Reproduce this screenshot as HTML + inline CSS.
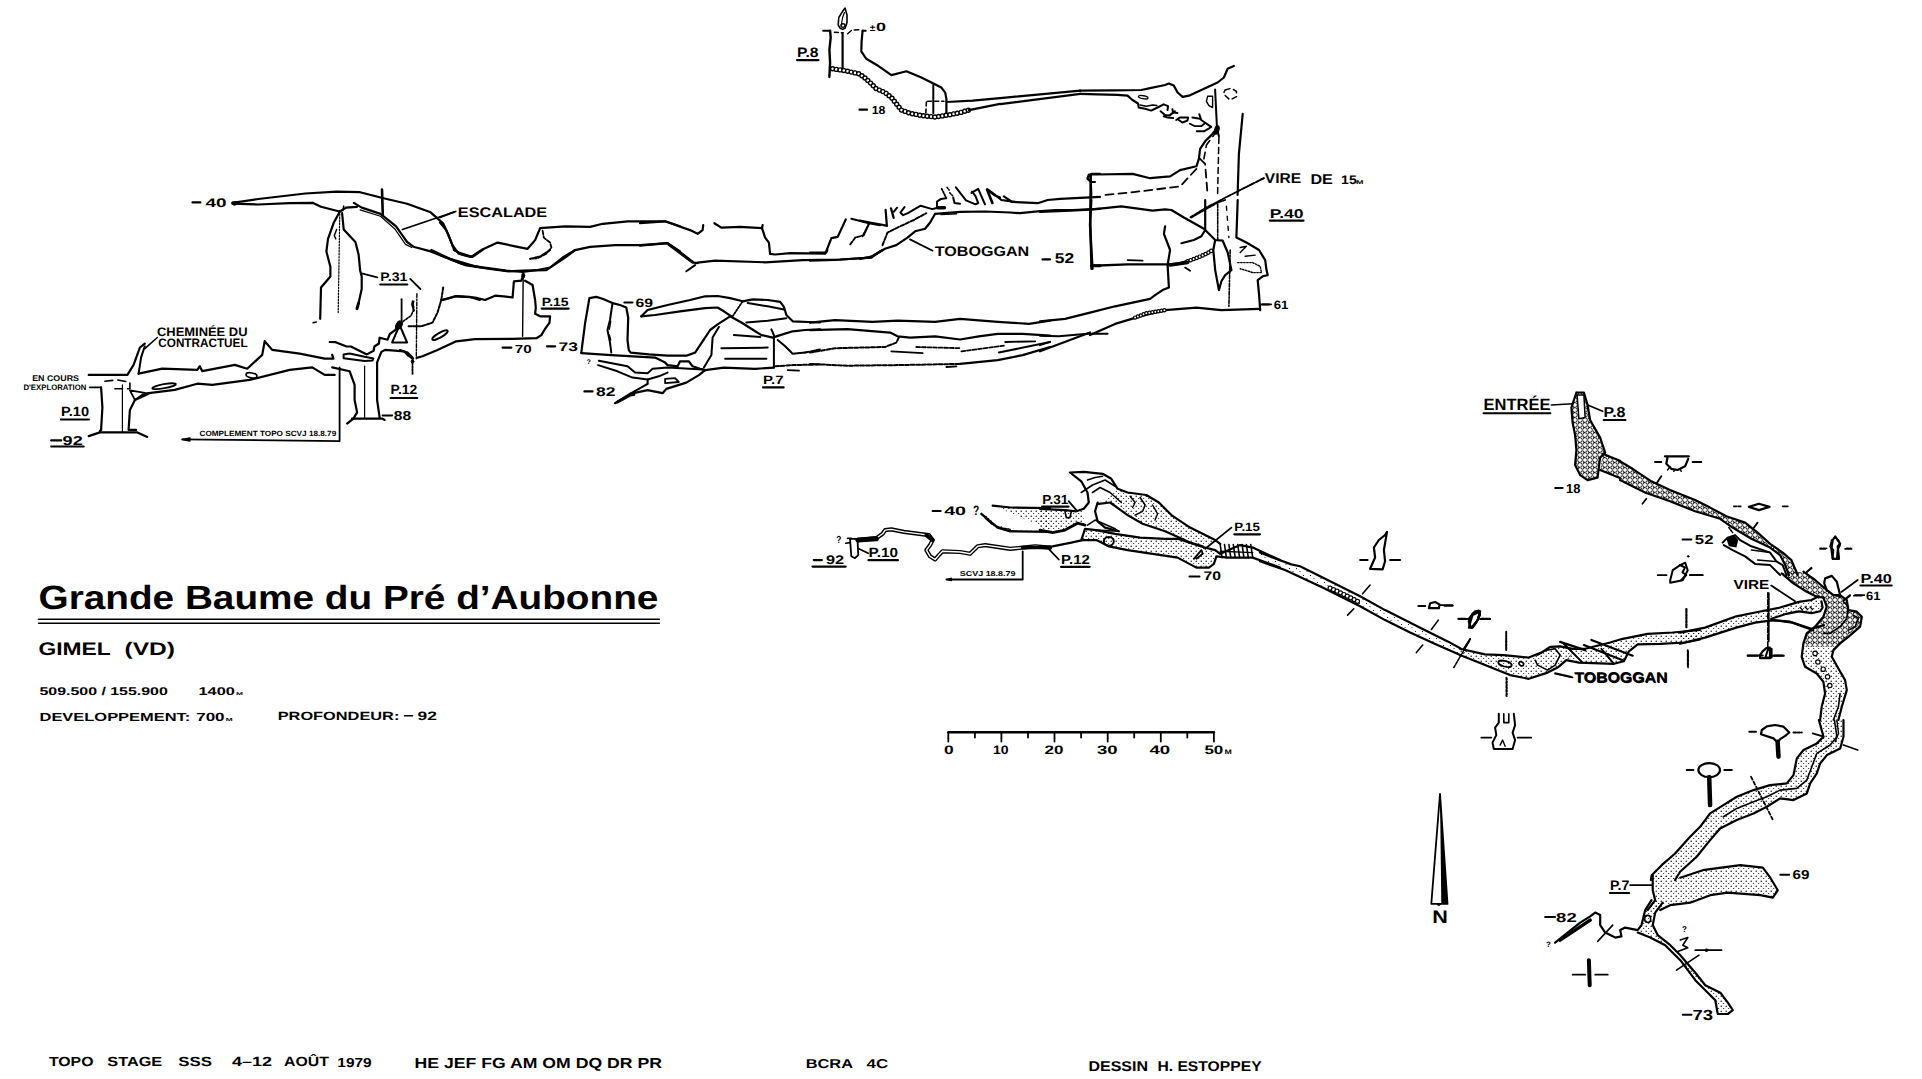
<!DOCTYPE html>
<html><head><meta charset="utf-8"><style>
html,body{margin:0;padding:0;background:#fff;}
svg{display:block;} text{text-rendering:geometricPrecision;}
</style></head><body>
<svg width="1922" height="1079" viewBox="0 0 1922 1079" stroke-linecap="round" stroke-linejoin="round">
<defs>
<pattern id="st" width="5" height="5" patternUnits="userSpaceOnUse"><circle cx="1.2" cy="1.2" r="0.7" fill="#000"/><circle cx="3.7" cy="3.5" r="0.55" fill="#000"/></pattern>
<pattern id="st2" width="7" height="7" patternUnits="userSpaceOnUse"><circle cx="1.5" cy="1.5" r="0.6" fill="#000"/><circle cx="5" cy="4.5" r="0.5" fill="#000"/></pattern>
<pattern id="bo" width="5" height="5" patternUnits="userSpaceOnUse"><circle cx="2.5" cy="2.5" r="1.7" fill="none" stroke="#000" stroke-width="1"/></pattern>
</defs>
<rect width="1922" height="1079" fill="#fff"/>
<polyline points="813.8,560.1 821.9,560.1" fill="none" stroke="#000" stroke-width="2.20"/>
<text x="826.0" y="564.0" font-family="Liberation Sans" font-weight="bold" font-size="12.46" textLength="18.1" lengthAdjust="spacingAndGlyphs">92</text>
<polyline points="812.5,566.6 845.7,566.6" fill="none" stroke="#000" stroke-width="2.20"/>
<text x="868.5" y="557.2" font-family="Liberation Sans" font-weight="bold" font-size="13.32" textLength="29.4" lengthAdjust="spacingAndGlyphs">P.10</text>
<line x1="868.5" y1="560.2" x2="897.9" y2="560.2" stroke="#000" stroke-width="2.20"/>
<text x="836.2" y="543.0" font-family="Liberation Sans" font-weight="bold" font-size="10.23" textLength="5.1" lengthAdjust="spacingAndGlyphs">?</text>
<polyline points="850.0,538.8 857.5,538.8 858.2,555.1 855.0,558.2 851.3,556.3 850.0,538.8" fill="none" stroke="#000" stroke-width="1.80"/>
<polyline points="847.5,538.2 851.3,538.2" fill="none" stroke="#000" stroke-width="1.60"/>
<polyline points="845.7,543.2 850.0,542.6" fill="none" stroke="#000" stroke-width="1.60"/>
<polyline points="858.8,548.8 868.2,553.2" fill="none" stroke="#000" stroke-width="1.80"/>
<polyline points="857.5,540.1 876.3,538.2 882.6,533.8 885.1,530.1 891.3,529.4 903.8,531.9 928.9,535.1 932.6,540.1 930.1,545.1 926.4,550.1 930.1,556.3 935.1,559.5 938.9,555.1 942.6,551.3 960.1,552.0 970.1,553.8 977.7,546.3 985.2,545.1 1010.2,548.8 1022.7,547.6 1035.2,546.3 1050.0,547.6" fill="none" stroke="#000" stroke-width="4.20"/>
<polyline points="857.5,540.1 876.3,538.2 882.6,533.8 885.1,530.1 891.3,529.4 903.8,531.9 928.9,535.1 932.6,540.1 930.1,545.1 926.4,550.1 930.1,556.3 935.1,559.5 938.9,555.1 942.6,551.3 960.1,552.0 970.1,553.8 977.7,546.3 985.2,545.1 1010.2,548.8 1022.7,547.6 1035.2,546.3 1050.0,547.6" fill="none" stroke="#fff" stroke-width="1.40"/>
<polyline points="858.2,540.1 876.3,538.8" fill="none" stroke="#000" stroke-width="5.00"/>
<polyline points="926.4,535.1 932.6,540.1" fill="none" stroke="#000" stroke-width="4.00"/>
<polyline points="1022.7,547.6 1050.0,547.6" fill="none" stroke="#000" stroke-width="3.50"/>
<polyline points="932.6,511.0 940.7,511.0" fill="none" stroke="#000" stroke-width="2.00"/>
<text x="944.2" y="515.3" font-family="Liberation Sans" font-weight="bold" font-size="12.29" textLength="21.9" lengthAdjust="spacingAndGlyphs">40</text>
<text x="973.0" y="515.3" font-family="Liberation Sans" font-weight="bold" font-size="13.66" textLength="6.2" lengthAdjust="spacingAndGlyphs">?</text>
<polygon points="992.7,505.7 1010.2,507.5 1050.0,508.2 1050.0,531.9 1010.2,531.3 997.7,527.6 990.2,521.3 981.4,513.8 987.7,516.3 997.7,525.1 1010.2,528.8 1050.0,529.4" fill="url(#st)"/>
<polyline points="992.7,505.7 1010.2,507.5 1050.0,508.2" fill="none" stroke="#000" stroke-width="2.20"/>
<polyline points="981.4,513.8 990.2,521.3 997.7,527.6 1010.2,531.3 1050.0,531.9" fill="none" stroke="#000" stroke-width="2.40"/>
<polyline points="985.2,518.2 991.4,523.8 1000.2,527.6 1010.2,529.4" fill="none" stroke="#000" stroke-width="1.40"/>
<text x="959.8" y="575.9" font-family="Liberation Sans" font-weight="bold" font-size="7.11" textLength="55.7" lengthAdjust="spacingAndGlyphs">SCVJ  18.8.79</text>
<polyline points="946.4,579.5 1022.7,579.5 1022.7,551.3" fill="none" stroke="#000" stroke-width="1.80"/>
<polyline points="946.4,579.5 951.4,578.2 951.4,580.7 946.4,579.5" fill="#000" stroke="#000" stroke-width="1.20"/>
<polygon points="1620.0,461.3 1632.5,468.8 1651.3,481.3 1670.0,490.0 1695.1,500.1 1710.1,507.6 1726.3,516.3 1745.1,522.6 1757.6,532.6 1770.1,543.8 1782.7,552.6 1791.4,560.1 1797.7,575.0 1788.9,575.0 1785.2,565.1 1780.1,555.1 1770.1,547.6 1751.4,538.8 1732.6,527.6 1720.1,518.8 1695.1,511.3 1670.0,501.3 1645.0,492.5 1620.0,480.0" fill="url(#bo)"/>
<polyline points="1620.0,461.3 1632.5,468.8 1651.3,481.3 1670.0,490.0 1695.1,500.1 1710.1,507.6 1726.3,516.3 1745.1,522.6 1757.6,532.6 1770.1,543.8 1782.7,552.6 1791.4,560.1 1797.7,575.0" fill="none" stroke="#000" stroke-width="2.20"/>
<polyline points="1620.0,480.0 1645.0,492.5 1670.0,501.3 1695.1,511.3 1720.1,518.8 1732.6,527.6 1751.4,538.8 1770.1,547.6 1780.1,555.1 1785.2,565.1 1788.9,575.0" fill="none" stroke="#000" stroke-width="2.20"/>
<polyline points="1722.6,542.6 1727.6,537.6 1735.1,535.1 1740.1,540.1 1751.4,546.3 1770.1,552.6 1776.4,561.4 1782.7,565.1 1786.4,575.0" fill="none" stroke="#000" stroke-width="2.00"/>
<polyline points="1723.8,545.1 1732.6,550.1 1745.1,556.4 1755.1,563.9 1770.1,565.1 1780.1,575.0" fill="none" stroke="#000" stroke-width="2.00"/>
<polygon points="1726.3,538.8 1733.9,535.1 1738.2,540.1 1736.4,547.6 1728.9,546.3" fill="#000"/>
<polyline points="1751.4,550.1 1770.1,552.6" fill="none" stroke="#000" stroke-width="1.50"/>
<polyline points="1757.6,560.1 1775.1,561.4" fill="none" stroke="#000" stroke-width="1.50"/>
<polyline points="1665.0,456.3 1688.8,456.3" fill="none" stroke="#000" stroke-width="2.20"/>
<polyline points="1667.5,457.5 1666.3,463.8 1671.3,468.8 1677.6,470.0 1685.1,466.3 1688.2,458.8" fill="none" stroke="#000" stroke-width="2.20"/>
<polyline points="1670.0,466.9 1667.5,470.0" fill="none" stroke="#000" stroke-width="1.40"/>
<polyline points="1675.1,469.4 1673.8,471.3" fill="none" stroke="#000" stroke-width="1.40"/>
<polyline points="1680.1,469.4 1681.3,471.3" fill="none" stroke="#000" stroke-width="1.40"/>
<polyline points="1655.0,461.9 1661.3,461.9" fill="none" stroke="#000" stroke-width="2.00"/>
<polyline points="1692.6,461.9 1701.3,461.9" fill="none" stroke="#000" stroke-width="2.00"/>
<polyline points="1748.9,506.9 1758.9,503.8 1769.5,506.9 1758.9,510.1 1748.9,506.9" fill="none" stroke="#000" stroke-width="2.20"/>
<polyline points="1733.9,506.3 1741.4,506.3" fill="none" stroke="#000" stroke-width="1.80" stroke-dasharray="2.5 1.8"/>
<polyline points="1782.7,506.3 1787.7,506.3" fill="none" stroke="#000" stroke-width="1.80"/>
<polyline points="1661.3,476.3 1656.3,483.8" fill="none" stroke="#000" stroke-width="1.80"/>
<polyline points="1646.3,498.8 1642.5,503.8" fill="none" stroke="#000" stroke-width="1.80"/>
<polyline points="1757.6,522.6 1753.9,527.6" fill="none" stroke="#000" stroke-width="1.80"/>
<polyline points="1728.9,527.6 1732.6,532.6" fill="none" stroke="#000" stroke-width="1.60" stroke-dasharray="1.5 1.5"/>
<polyline points="1811.4,567.6 1806.4,572.6" fill="none" stroke="#000" stroke-width="1.80"/>
<polyline points="1832.7,540.1 1835.2,536.3 1837.7,540.1 1840.2,543.8 1837.7,546.3 1839.0,558.9 1832.7,558.9 1831.4,548.9 1832.7,540.1" fill="none" stroke="#000" stroke-width="2.20"/>
<polyline points="1820.2,548.9 1825.2,548.9" fill="none" stroke="#000" stroke-width="1.80"/>
<polyline points="1845.2,548.9 1851.5,548.9" fill="none" stroke="#000" stroke-width="1.80" stroke-dasharray="1.5 1.5"/>
<polyline points="1682.6,539.5 1691.3,539.5" fill="none" stroke="#000" stroke-width="2.20"/>
<text x="1694.8" y="543.8" font-family="Liberation Sans" font-weight="bold" font-size="12.97" textLength="18.7" lengthAdjust="spacingAndGlyphs">52</text>
<polygon points="1818.9,720.0 1823.5,736.7 1816.8,743.4 1803.5,750.0 1796.8,758.4 1793.5,775.1 1786.8,783.4 1770.1,785.1 1753.5,790.1 1736.8,796.8 1723.4,805.1 1710.1,813.4 1700.1,826.8 1690.1,836.8 1675.1,853.5 1661.7,865.2 1651.7,875.2 1650.9,880.0 1675.1,880.0 1680.1,871.8 1696.7,856.8 1710.1,840.1 1720.1,828.5 1736.8,820.1 1753.5,813.4 1766.8,806.8 1780.1,798.4 1793.5,800.1 1806.8,793.4 1810.2,783.4 1816.8,773.4 1820.2,763.4 1826.9,755.1 1840.2,748.4 1843.5,736.7 1843.5,720.0" fill="url(#st)"/>
<polyline points="1818.9,720.0 1823.5,736.7 1816.8,743.4 1803.5,750.0 1796.8,758.4 1793.5,775.1 1786.8,783.4 1770.1,785.1 1753.5,790.1 1736.8,796.8 1723.4,805.1 1710.1,813.4 1700.1,826.8 1690.1,836.8 1675.1,853.5 1661.7,865.2 1651.7,875.2 1650.9,880.0" fill="none" stroke="#000" stroke-width="2.20"/>
<polyline points="1843.5,720.0 1843.5,736.7 1840.2,748.4 1826.9,755.1 1820.2,763.4 1816.8,773.4 1810.2,783.4 1806.8,793.4 1793.5,800.1 1780.1,798.4 1766.8,806.8 1753.5,813.4 1736.8,820.1 1720.1,828.5 1710.1,840.1 1696.7,856.8 1680.1,871.8 1675.1,880.0" fill="none" stroke="#000" stroke-width="2.20"/>
<polyline points="1834.4,720.0 1836.9,736.7 1830.2,745.0 1816.8,753.4 1811.8,766.7 1806.8,780.1 1796.8,788.4 1780.1,790.1 1766.8,796.8 1753.5,801.8 1736.8,808.4 1723.4,816.8" fill="none" stroke="#000" stroke-width="1.60"/>
<polyline points="1836.9,720.0 1838.5,733.4 1835.2,741.7" fill="none" stroke="#000" stroke-width="1.40"/>
<ellipse cx="1709.2" cy="770.1" rx="10.8" ry="7.0" transform="rotate(0.0 1709.2 770.1)" fill="none" stroke="#000" stroke-width="2.20"/>
<polyline points="1709.2,777.1 1710.1,805.1" fill="none" stroke="#000" stroke-width="4.50"/>
<polyline points="1686.7,770.1 1693.4,770.1" fill="none" stroke="#000" stroke-width="2.00"/>
<polyline points="1724.3,770.1 1731.8,770.1" fill="none" stroke="#000" stroke-width="2.00"/>
<polyline points="1761.0,734.2 1761.8,730.0 1766.8,726.4 1775.1,725.0 1783.5,726.7 1789.3,732.5 1785.2,735.9 1780.1,739.2 1777.6,742.5 1773.5,738.4 1761.0,734.2" fill="none" stroke="#000" stroke-width="2.20"/>
<polyline points="1777.6,741.7 1778.5,756.7" fill="none" stroke="#000" stroke-width="4.50"/>
<polyline points="1749.3,731.7 1756.0,731.7" fill="none" stroke="#000" stroke-width="2.00"/>
<polyline points="1793.5,732.5 1801.8,732.5" fill="none" stroke="#000" stroke-width="2.00" stroke-dasharray="2.3 1.7"/>
<polyline points="1751.0,776.7 1772.6,819.3" fill="none" stroke="#000" stroke-width="1.80" stroke-dasharray="3.3 2.3"/>
<polyline points="1812.7,733.4 1823.5,736.7" fill="none" stroke="#000" stroke-width="1.80"/>
<polyline points="1843.5,745.0 1857.7,750.0" fill="none" stroke="#000" stroke-width="1.80"/>
<text x="1042.2" y="503.7" font-family="Liberation Sans" font-weight="bold" font-size="12.97" textLength="26.2" lengthAdjust="spacingAndGlyphs">P.31</text>
<line x1="1042.2" y1="506.7" x2="1068.5" y2="506.7" stroke="#000" stroke-width="2.20"/>
<text x="1061.0" y="563.8" font-family="Liberation Sans" font-weight="bold" font-size="12.97" textLength="28.8" lengthAdjust="spacingAndGlyphs">P.12</text>
<line x1="1061.0" y1="566.8" x2="1089.7" y2="566.8" stroke="#000" stroke-width="2.20"/>
<text x="1234.3" y="531.3" font-family="Liberation Sans" font-weight="bold" font-size="12.12" textLength="25.6" lengthAdjust="spacingAndGlyphs">P.15</text>
<line x1="1234.3" y1="534.3" x2="1259.9" y2="534.3" stroke="#000" stroke-width="2.20"/>
<text x="1203.6" y="580.3" font-family="Liberation Sans" font-weight="bold" font-size="12.46" textLength="17.5" lengthAdjust="spacingAndGlyphs">70</text>
<polyline points="1189.5,576.4 1199.5,576.4" fill="none" stroke="#000" stroke-width="2.00"/>
<polyline points="1047.5,547.6 1058.8,559.5" fill="none" stroke="#000" stroke-width="1.80"/>
<polyline points="1231.4,527.6 1205.2,548.8" fill="none" stroke="#000" stroke-width="1.80"/>
<polyline points="1068.8,501.3 1076.3,510.1" fill="none" stroke="#000" stroke-width="1.80"/>
<polygon points="1040.0,508.8 1065.0,510.1 1076.3,511.3 1083.8,508.8 1082.5,513.8 1085.0,525.1 1077.5,523.2 1065.0,530.1 1052.5,532.6 1040.0,530.1" fill="url(#st)"/>
<polyline points="1040.0,508.8 1065.0,510.1 1076.3,511.3 1083.8,508.8 1088.8,502.5 1087.5,492.5 1081.3,481.3 1070.0,472.5 1083.8,471.9 1102.6,473.8 1111.3,478.8 1117.6,488.8 1127.6,492.5 1146.3,495.0 1158.9,502.5 1171.4,515.1 1190.1,527.6 1215.2,540.1 1220.2,543.8" fill="none" stroke="#000" stroke-width="2.20"/>
<polyline points="1040.0,530.1 1052.5,532.6 1065.0,530.1 1077.5,523.2 1085.0,525.1" fill="none" stroke="#000" stroke-width="2.80"/>
<polyline points="1065.0,511.3 1066.3,517.6 1070.0,517.6 1071.3,511.3" fill="none" stroke="#000" stroke-width="1.60"/>
<polygon points="1117.6,490.0 1127.6,492.5 1146.3,495.0 1158.9,502.5 1171.4,515.1 1190.1,527.6 1217.7,541.3 1202.7,545.1 1190.1,542.6 1165.1,531.3 1142.6,523.8 1127.6,515.1 1110.1,502.5 1098.8,503.8" fill="url(#st)"/>
<polyline points="1098.8,503.8 1110.1,502.5 1127.6,515.1 1142.6,523.8 1165.1,531.3 1190.1,542.6 1202.7,546.3" fill="none" stroke="#000" stroke-width="2.20"/>
<polyline points="1097.6,502.5 1095.1,511.3 1097.6,521.3 1105.1,527.6 1118.8,531.3" fill="none" stroke="#000" stroke-width="2.20"/>
<polyline points="1081.3,492.5 1092.5,485.0 1105.1,480.0 1115.1,486.3" fill="none" stroke="#000" stroke-width="1.60"/>
<polyline points="1087.5,480.0 1095.1,477.5 1102.6,476.3" fill="none" stroke="#000" stroke-width="1.40"/>
<polyline points="1092.5,492.5 1100.1,487.5 1110.1,492.5 1121.3,502.5" fill="none" stroke="#000" stroke-width="1.60"/>
<polyline points="1130.1,496.3 1135.1,502.5 1132.6,507.5" fill="none" stroke="#000" stroke-width="1.40"/>
<polyline points="1140.1,497.5 1145.1,505.0 1142.6,511.3 1135.1,515.1" fill="none" stroke="#000" stroke-width="1.50"/>
<polyline points="1152.6,505.0 1157.6,513.8 1155.1,520.1" fill="none" stroke="#000" stroke-width="1.40"/>
<polygon points="1081.3,540.1 1085.0,528.8 1096.3,530.1 1115.1,533.8 1140.1,537.6 1165.1,538.8 1177.6,538.8 1202.7,547.0 1215.2,550.1 1220.2,553.8 1216.4,556.3 1213.9,563.9 1208.9,567.6 1196.4,567.6 1177.6,557.6 1152.6,553.8 1127.6,550.1 1108.8,546.3 1096.3,540.1" fill="url(#st)"/>
<polyline points="1081.3,540.1 1085.0,528.8 1096.3,530.1 1115.1,533.8 1140.1,537.6 1165.1,538.8 1177.6,538.8 1202.7,547.0 1215.2,550.1 1220.2,553.8 1240.2,545.1 1252.7,547.6 1280.0,560.1" fill="none" stroke="#000" stroke-width="2.20"/>
<polyline points="1040.0,547.6 1052.5,546.3 1071.3,542.6 1082.5,540.1 1096.3,540.1 1108.8,546.3 1127.6,550.1 1152.6,553.8 1177.6,557.6 1196.4,567.6 1208.9,567.6 1213.9,563.9 1216.4,556.3 1227.7,557.6 1252.7,557.6 1280.0,567.6" fill="none" stroke="#000" stroke-width="2.20"/>
<ellipse cx="1108.8" cy="541.3" rx="5.0" ry="4.4" transform="rotate(0.0 1108.8 541.3)" fill="none" stroke="#000" stroke-width="2.00"/>
<polyline points="1193.9,558.8 1201.4,550.1 1202.7,553.8 1196.4,558.8" fill="none" stroke="#000" stroke-width="1.80"/>
<polyline points="1220.2,544.5 1222.0,557.6" fill="none" stroke="#000" stroke-width="1.60"/>
<polyline points="1224.5,544.5 1226.4,557.6" fill="none" stroke="#000" stroke-width="1.60"/>
<polyline points="1228.9,544.5 1230.8,557.6" fill="none" stroke="#000" stroke-width="1.60"/>
<polyline points="1233.3,544.5 1235.2,557.6" fill="none" stroke="#000" stroke-width="1.60"/>
<polyline points="1237.7,544.5 1239.6,557.6" fill="none" stroke="#000" stroke-width="1.60"/>
<polyline points="1242.1,544.5 1243.9,557.6" fill="none" stroke="#000" stroke-width="1.60"/>
<polyline points="1246.4,544.5 1248.3,557.6" fill="none" stroke="#000" stroke-width="1.60"/>
<polyline points="1250.8,544.5 1252.7,557.6" fill="none" stroke="#000" stroke-width="1.60"/>
<polyline points="1220.2,551.3 1252.7,552.6" fill="none" stroke="#000" stroke-width="1.40"/>
<polyline points="1087.5,525.1 1095.1,520.1 1115.1,528.8 1118.8,531.3 1096.3,530.1" fill="none" stroke="#000" stroke-width="1.60"/>
<polygon points="1260.0,552.5 1272.5,557.5 1291.3,564.4 1300.0,566.3 1322.6,577.6 1360.1,596.3 1385.1,610.1 1422.7,628.9 1447.7,641.4 1466.4,651.4 1460.2,655.0 1435.2,643.9 1410.1,632.6 1385.1,620.1 1360.1,606.3 1322.6,587.6 1285.0,570.0 1260.0,561.3" fill="url(#st2)"/>
<polyline points="1260.0,552.5 1272.5,557.5 1291.3,564.4 1300.0,566.3 1322.6,577.6 1360.1,596.3 1385.1,610.1 1422.7,628.9 1447.7,641.4 1460.2,648.2" fill="none" stroke="#000" stroke-width="2.20"/>
<polyline points="1260.0,561.3 1285.0,570.0 1322.6,587.6 1360.1,606.3 1385.1,620.1 1410.1,632.6 1435.2,643.9 1460.2,655.0" fill="none" stroke="#000" stroke-width="2.20"/>
<circle cx="1330.1" cy="588.2" r="2.0" fill="#fff" stroke="#000" stroke-width="1.20"/>
<circle cx="1333.5" cy="589.7" r="2.0" fill="#fff" stroke="#000" stroke-width="1.20"/>
<circle cx="1337.0" cy="591.2" r="2.0" fill="#fff" stroke="#000" stroke-width="1.20"/>
<circle cx="1340.5" cy="592.8" r="2.0" fill="#fff" stroke="#000" stroke-width="1.20"/>
<circle cx="1343.9" cy="594.5" r="2.0" fill="#fff" stroke="#000" stroke-width="1.20"/>
<circle cx="1347.3" cy="596.2" r="2.0" fill="#fff" stroke="#000" stroke-width="1.20"/>
<circle cx="1350.7" cy="597.9" r="2.0" fill="#fff" stroke="#000" stroke-width="1.20"/>
<circle cx="1354.1" cy="599.6" r="2.0" fill="#fff" stroke="#000" stroke-width="1.20"/>
<circle cx="1357.5" cy="601.3" r="2.0" fill="#fff" stroke="#000" stroke-width="1.20"/>
<polyline points="1370.1,585.1 1362.6,593.8" fill="none" stroke="#000" stroke-width="1.60"/>
<polyline points="1353.8,608.8 1347.6,615.1" fill="none" stroke="#000" stroke-width="1.60"/>
<polyline points="1438.3,620.1 1431.4,629.5" fill="none" stroke="#000" stroke-width="1.60"/>
<polyline points="1422.7,645.1 1416.4,652.6" fill="none" stroke="#000" stroke-width="1.60"/>
<polyline points="1470.2,638.9 1463.9,648.9" fill="none" stroke="#000" stroke-width="1.60"/>
<polyline points="1370.1,568.8 1375.1,557.5 1373.9,547.5 1378.9,540.0 1385.1,535.0 1387.0,531.9 1383.9,550.0 1385.1,561.3 1382.6,569.4 1370.1,568.8" fill="none" stroke="#000" stroke-width="2.20"/>
<polyline points="1360.1,560.0 1367.6,560.0" fill="none" stroke="#000" stroke-width="2.00"/>
<polyline points="1390.1,560.0 1400.1,560.0" fill="none" stroke="#000" stroke-width="2.00"/>
<polyline points="1428.9,608.2 1430.2,603.2 1435.2,602.0 1439.5,604.5 1438.9,608.2 1428.9,608.2" fill="none" stroke="#000" stroke-width="2.20"/>
<polyline points="1418.3,606.1 1425.2,606.1" fill="none" stroke="#000" stroke-width="2.00"/>
<polyline points="1444.5,605.7 1452.7,605.7" fill="none" stroke="#000" stroke-width="2.00"/>
<polyline points="1470.2,626.3 1468.9,618.8 1475.2,611.3 1480.2,611.3 1477.7,620.1 1471.4,627.6 1470.2,626.3" fill="none" stroke="#000" stroke-width="2.20"/>
<polyline points="1458.3,618.8 1465.2,618.8" fill="none" stroke="#000" stroke-width="2.00"/>
<polyline points="1481.5,618.8 1489.6,618.8" fill="none" stroke="#000" stroke-width="2.00"/>
<text x="1483.5" y="410.2" font-family="Liberation Sans" font-weight="bold" font-size="16.41" textLength="66.9" lengthAdjust="spacingAndGlyphs">ENTRÉE</text>
<line x1="1483.5" y1="413.2" x2="1550.4" y2="413.2" stroke="#000" stroke-width="2.00"/>
<polyline points="1551.4,405.0 1572.6,403.8" fill="none" stroke="#000" stroke-width="1.60"/>
<text x="1603.6" y="417.0" font-family="Liberation Sans" font-weight="bold" font-size="14.35" textLength="21.9" lengthAdjust="spacingAndGlyphs">P.8</text>
<line x1="1603.6" y1="420.0" x2="1625.5" y2="420.0" stroke="#000" stroke-width="2.00"/>
<polyline points="1587.6,405.0 1602.7,411.3" fill="none" stroke="#000" stroke-width="1.60"/>
<polygon points="1576.4,392.5 1583.9,392.5 1587.6,405.0 1590.1,420.0 1600.1,437.6 1605.2,452.6 1600.1,457.6 1597.6,477.6 1587.6,480.1 1580.1,475.1 1575.1,465.1 1576.4,450.1 1575.1,435.1 1572.6,422.5 1571.4,407.5" fill="url(#bo)"/>
<polyline points="1576.4,392.5 1583.9,392.5 1587.6,405.0 1590.1,420.0 1600.1,437.6 1605.2,452.6 1600.1,457.6 1597.6,477.6 1587.6,480.1 1580.1,475.1 1575.1,465.1 1576.4,450.1 1575.1,435.1 1572.6,422.5 1571.4,407.5 1576.4,392.5" fill="none" stroke="#000" stroke-width="2.20"/>
<polyline points="1577.1,395.0 1583.9,395.0 1585.1,417.5 1578.9,418.8 1577.1,395.0" fill="#fff" stroke="#000" stroke-width="1.50"/>
<polygon points="1602.7,453.8 1619.9,460.8 1619.9,478.1 1600.1,470.1" fill="url(#bo)"/>
<polyline points="1602.7,453.8 1619.9,460.8" fill="none" stroke="#000" stroke-width="2.20"/>
<polyline points="1600.1,470.1 1619.9,478.1" fill="none" stroke="#000" stroke-width="2.20"/>
<polyline points="1555.1,488.1 1562.6,488.1" fill="none" stroke="#000" stroke-width="2.00"/>
<text x="1566.1" y="492.8" font-family="Liberation Sans" font-weight="bold" font-size="12.97" textLength="14.4" lengthAdjust="spacingAndGlyphs">18</text>
<polyline points="1670.2,580.2 1672.7,570.2 1680.2,565.2 1685.2,562.7 1687.7,570.2 1682.7,580.2 1670.2,582.7 1670.2,580.2" fill="none" stroke="#000" stroke-width="2.00"/>
<polyline points="1657.7,575.2 1666.5,575.2" fill="none" stroke="#000" stroke-width="1.80"/>
<polyline points="1690.2,575.2 1702.7,575.2" fill="none" stroke="#000" stroke-width="1.80"/>
<ellipse cx="1688.2" cy="556.4" rx="0.8" ry="0.8" transform="rotate(0.0 1688.2 556.4)" fill="#000" stroke="#000" stroke-width="1.00"/>
<polyline points="1686.5,609.0 1686.5,627.7" fill="none" stroke="#000" stroke-width="1.60" stroke-dasharray="3.5 1.5"/>
<polyline points="1767.8,592.7 1767.8,650.0" fill="none" stroke="#000" stroke-width="1.60" stroke-dasharray="5.0 2.0"/>
<polyline points="1506.3,631.5 1506.3,650.0" fill="none" stroke="#000" stroke-width="1.60"/>
<polyline points="1458.8,619.0 1467.5,619.0" fill="none" stroke="#000" stroke-width="1.80"/>
<polyline points="1480.0,619.0 1490.0,619.0" fill="none" stroke="#000" stroke-width="1.80"/>
<polyline points="1468.8,627.7 1472.5,615.2 1480.0,611.5 1477.5,620.2 1472.5,627.7 1468.8,627.7" fill="none" stroke="#000" stroke-width="2.00"/>
<polyline points="1470.0,639.0 1463.8,650.0" fill="none" stroke="#000" stroke-width="1.60"/>
<polyline points="1440.0,605.2 1452.5,605.2" fill="none" stroke="#000" stroke-width="1.80"/>
<text x="1733.5" y="588.7" font-family="Liberation Sans" font-weight="bold" font-size="12.97" textLength="35.6" lengthAdjust="spacingAndGlyphs">VIRE</text>
<polyline points="1771.3,585.6 1795.1,601.3" fill="none" stroke="#000" stroke-width="1.80"/>
<text x="1860.5" y="582.5" font-family="Liberation Sans" font-weight="bold" font-size="12.97" textLength="31.3" lengthAdjust="spacingAndGlyphs">P.40</text>
<line x1="1860.5" y1="585.5" x2="1891.7" y2="585.5" stroke="#000" stroke-width="2.20"/>
<polyline points="1857.7,580.0 1841.4,591.9" fill="none" stroke="#000" stroke-width="1.80"/>
<polyline points="1853.9,595.7 1861.4,595.7" fill="none" stroke="#000" stroke-width="1.80"/>
<text x="1866.1" y="600.0" font-family="Liberation Sans" font-weight="bold" font-size="12.12" textLength="14.4" lengthAdjust="spacingAndGlyphs">61</text>
<polyline points="1850.2,595.0 1843.9,600.0" fill="none" stroke="#000" stroke-width="1.60"/>
<polygon points="1680.0,632.6 1705.0,627.6 1736.3,616.3 1755.1,612.5 1780.1,607.5 1798.9,601.9 1811.4,600.0 1816.4,597.5 1818.9,596.3 1822.6,607.5 1820.1,611.3 1811.4,613.2 1798.9,611.3 1786.3,613.8 1771.3,618.8 1755.1,622.6 1736.3,627.6 1705.0,637.6 1680.0,643.8" fill="url(#st)"/>
<polyline points="1680.0,632.6 1705.0,627.6 1736.3,616.3 1755.1,612.5 1780.1,607.5 1798.9,601.9 1811.4,600.0 1816.4,597.5 1818.9,596.3" fill="none" stroke="#000" stroke-width="2.20"/>
<polyline points="1680.0,643.8 1705.0,637.6 1736.3,627.6 1755.1,622.6 1773.8,620.1 1792.6,622.6 1811.4,628.8 1823.9,625.1" fill="none" stroke="#000" stroke-width="2.20"/>
<polyline points="1771.3,618.8 1786.3,613.8 1798.9,611.3 1811.4,613.2 1820.1,611.3 1822.6,607.5 1821.4,601.3" fill="none" stroke="#000" stroke-width="2.20"/>
<polyline points="1800.1,607.5 1802.6,610.0" fill="none" stroke="#000" stroke-width="1.40"/>
<polyline points="1805.1,606.9 1807.6,609.4" fill="none" stroke="#000" stroke-width="1.40"/>
<polyline points="1810.1,606.9 1812.6,609.4" fill="none" stroke="#000" stroke-width="1.40"/>
<polyline points="1768.8,593.2 1768.8,641.3" fill="none" stroke="#000" stroke-width="1.80" stroke-dasharray="2.5 1.5"/>
<polyline points="1686.3,608.8 1686.3,628.2" fill="none" stroke="#000" stroke-width="1.60" stroke-dasharray="2.5 1.5"/>
<polyline points="1688.1,651.3 1688.1,667.6" fill="none" stroke="#000" stroke-width="1.60" stroke-dasharray="2.5 1.5"/>
<polyline points="1760.1,658.2 1770.1,658.2 1769.8,647.6 1766.3,648.2 1762.6,651.3 1760.1,655.1 1760.1,658.2" fill="none" stroke="#000" stroke-width="2.20"/>
<polyline points="1747.6,655.7 1757.6,655.7" fill="none" stroke="#000" stroke-width="2.00"/>
<polyline points="1772.6,655.7 1783.8,655.7" fill="none" stroke="#000" stroke-width="2.00"/>
<polyline points="1680.0,565.0 1685.0,567.5 1682.5,572.5 1686.3,575.0 1681.3,580.0" fill="none" stroke="#000" stroke-width="2.00"/>
<polyline points="1690.0,575.0 1702.5,575.0" fill="none" stroke="#000" stroke-width="1.80"/>
<text x="1574.8" y="682.7" font-family="Liberation Sans" font-weight="bold" font-size="14.69" textLength="93.2" lengthAdjust="spacingAndGlyphs">TOBOGGAN</text>
<polyline points="1555.1,673.8 1572.6,677.5" fill="none" stroke="#000" stroke-width="1.60"/>
<polyline points="1506.3,640.0 1506.3,650.0" fill="none" stroke="#000" stroke-width="1.60" stroke-dasharray="2.5 1.5"/>
<polyline points="1506.3,677.5 1506.3,696.3" fill="none" stroke="#000" stroke-width="1.60" stroke-dasharray="2.5 1.5"/>
<polyline points="1687.7,650.0 1687.7,666.3" fill="none" stroke="#000" stroke-width="1.60" stroke-dasharray="2.5 1.5"/>
<polyline points="1453.8,667.5 1470.0,640.0" fill="none" stroke="#000" stroke-width="1.60" stroke-dasharray="2.5 1.5"/>
<polyline points="1498.8,713.8 1498.8,722.6 1495.1,727.6 1496.3,735.1 1492.5,742.6 1493.8,748.9 1512.6,748.9 1515.1,740.1 1512.6,732.6 1515.1,725.1 1513.8,713.8" fill="none" stroke="#000" stroke-width="2.00"/>
<polyline points="1503.8,713.8 1503.8,722.6 1508.8,722.6 1508.8,713.8" fill="none" stroke="#000" stroke-width="1.60"/>
<polyline points="1500.1,745.1 1502.6,740.1 1505.1,746.3" fill="none" stroke="#000" stroke-width="1.40"/>
<polyline points="1481.3,737.6 1491.3,737.6" fill="none" stroke="#000" stroke-width="1.80"/>
<polyline points="1517.6,737.6 1531.3,737.6" fill="none" stroke="#000" stroke-width="1.80"/>
<polyline points="1765.3,657.5 1767.8,650.0 1771.6,648.8 1771.6,657.5 1765.3,657.5" fill="none" stroke="#000" stroke-width="2.00"/>
<polyline points="1747.8,655.5 1762.8,655.5" fill="none" stroke="#000" stroke-width="1.80"/>
<polyline points="1774.1,655.5 1782.8,655.5" fill="none" stroke="#000" stroke-width="1.80"/>
<polygon points="1680.2,877.7 1702.7,870.2 1740.3,865.2 1762.8,867.7 1770.3,877.7 1777.8,890.2 1772.8,897.7 1760.3,895.2 1727.8,892.7 1710.3,895.2 1690.2,902.7 1670.2,905.2 1660.2,910.0 1647.7,910.0 1655.2,900.2 1652.7,890.2 1652.7,875.2" fill="url(#st)"/>
<polyline points="1680.2,877.7 1702.7,870.2 1740.3,865.2 1762.8,867.7 1770.3,877.7 1777.8,890.2 1772.8,897.7 1760.3,895.2 1727.8,892.7 1710.3,895.2 1690.2,902.7 1670.2,905.2 1660.2,910.0" fill="none" stroke="#000" stroke-width="2.20"/>
<polyline points="1652.7,875.2 1652.7,890.2 1655.2,900.2 1647.7,910.0" fill="none" stroke="#000" stroke-width="2.20"/>
<text x="1792.5" y="879.2" font-family="Liberation Sans" font-weight="bold" font-size="12.97" textLength="16.9" lengthAdjust="spacingAndGlyphs">69</text>
<polyline points="1780.3,874.7 1789.1,874.7" fill="none" stroke="#000" stroke-width="2.00"/>
<text x="1609.9" y="889.9" font-family="Liberation Sans" font-weight="bold" font-size="14.00" textLength="19.4" lengthAdjust="spacingAndGlyphs">P.7</text>
<line x1="1609.9" y1="892.9" x2="1629.2" y2="892.9" stroke="#000" stroke-width="2.00"/>
<polyline points="1630.2,885.2 1651.4,885.2" fill="none" stroke="#000" stroke-width="1.80"/>
<polyline points="1440.0,793.8 1431.3,903.9 1447.5,903.9 1440.0,793.8" fill="none" stroke="#000" stroke-width="1.80"/>
<polygon points="1440.0,793.8 1441.3,903.9 1447.5,903.9" fill="#000"/>
<text x="1432.2" y="922.8" font-family="Liberation Sans" font-weight="bold" font-size="18.12" textLength="15.6" lengthAdjust="spacingAndGlyphs">N</text>
<ellipse cx="1438.8" cy="904.4" rx="1.5" ry="1.0" transform="rotate(0.0 1438.8 904.4)" fill="#000" stroke="#000" stroke-width="1.00"/>
<text x="1556.1" y="921.6" font-family="Liberation Sans" font-weight="bold" font-size="12.97" textLength="20.6" lengthAdjust="spacingAndGlyphs">82</text>
<polyline points="1545.1,917.1 1555.1,917.1" fill="none" stroke="#000" stroke-width="2.00"/>
<text x="1692.5" y="1020.4" font-family="Liberation Sans" font-weight="bold" font-size="14.69" textLength="20.6" lengthAdjust="spacingAndGlyphs">73</text>
<polyline points="1682.8,1014.7 1691.5,1014.7" fill="none" stroke="#000" stroke-width="2.00"/>
<polygon points="1651.5,900.1 1645.2,910.1 1641.5,925.1 1637.7,930.1 1650.2,937.6 1665.2,945.2 1680.3,960.2 1695.3,980.2 1705.3,990.2 1715.3,1000.2 1717.8,1014.0 1727.8,1014.0 1732.8,1010.2 1727.8,1002.7 1720.3,992.7 1705.3,985.2 1695.3,972.7 1680.3,955.2 1670.3,945.2 1657.7,935.1 1652.7,925.1 1655.2,912.6 1662.7,902.6" fill="url(#st)"/>
<polyline points="1651.5,900.1 1645.2,910.1 1641.5,925.1 1637.7,930.1 1625.2,927.6 1620.2,930.1 1621.5,936.4 1615.2,937.6 1605.2,932.6 1600.2,925.1 1600.2,915.1 1595.2,912.6 1590.2,916.4 1580.2,922.6 1555.1,942.7" fill="none" stroke="#000" stroke-width="2.20"/>
<polyline points="1662.7,902.6 1655.2,912.6 1652.7,925.1 1657.7,935.1 1670.3,945.2 1680.3,955.2 1695.3,972.7 1705.3,985.2 1720.3,992.7 1727.8,1002.7 1732.8,1010.2 1727.8,1014.0 1717.8,1014.0 1715.3,1000.2 1705.3,990.2 1695.3,980.2 1680.3,960.2 1665.2,945.2 1650.2,937.6 1637.7,932.6" fill="none" stroke="#000" stroke-width="2.20"/>
<polyline points="1590.2,920.1 1575.2,930.1 1560.1,940.1" fill="none" stroke="#000" stroke-width="3.50"/>
<ellipse cx="1647.7" cy="918.9" rx="3.0" ry="3.5" transform="rotate(0.0 1647.7 918.9)" fill="none" stroke="#000" stroke-width="1.60"/>
<polyline points="1588.9,960.2 1589.7,985.2" fill="none" stroke="#000" stroke-width="4.00"/>
<polyline points="1572.7,974.7 1585.2,974.7" fill="none" stroke="#000" stroke-width="1.80"/>
<polyline points="1595.2,974.7 1607.7,974.7" fill="none" stroke="#000" stroke-width="1.80"/>
<polyline points="1612.7,925.1 1597.7,941.4" fill="none" stroke="#000" stroke-width="1.60"/>
<polyline points="1699.0,955.2 1676.5,970.2" fill="none" stroke="#000" stroke-width="1.60"/>
<polyline points="1695.3,950.2 1721.5,950.2" fill="none" stroke="#000" stroke-width="1.80"/>
<ellipse cx="1706.5" cy="950.2" rx="1.5" ry="1.3" transform="rotate(0.0 1706.5 950.2)" fill="#000" stroke="#000" stroke-width="1.00"/>
<text x="1682.0" y="931.6" font-family="Liberation Sans" font-weight="bold" font-size="8.51" textLength="4.9" lengthAdjust="spacingAndGlyphs">?</text>
<text x="1546.1" y="947.4" font-family="Liberation Sans" font-weight="bold" font-size="7.82" textLength="4.9" lengthAdjust="spacingAndGlyphs">?</text>
<polyline points="1680.3,940.1 1687.8,937.6 1682.8,945.2 1687.8,947.7 1677.8,951.4" fill="none" stroke="#000" stroke-width="1.60"/>
<polygon points="1460.0,648.8 1485.0,654.4 1503.8,655.1 1528.8,657.6 1541.3,652.6 1550.1,646.9 1560.1,646.3 1572.6,648.8 1585.1,648.8 1610.1,642.5 1622.7,638.8 1647.7,633.8 1672.7,632.5 1700.0,630.0 1700.0,639.4 1685.2,642.5 1660.2,643.8 1637.7,644.4 1628.9,651.3 1623.9,661.3 1613.9,663.8 1578.9,662.6 1566.3,660.1 1557.6,667.6 1547.6,672.6 1528.8,678.8 1510.0,675.1 1497.5,670.1 1478.8,662.6 1460.0,655.1" fill="url(#st)"/>
<polyline points="1460.0,648.8 1485.0,654.4 1503.8,655.1 1528.8,657.6 1541.3,652.6 1550.1,646.9 1560.1,646.3 1572.6,648.8 1585.1,648.8 1610.1,642.5 1622.7,638.8 1647.7,633.8 1672.7,632.5 1700.0,630.0" fill="none" stroke="#000" stroke-width="2.20"/>
<polyline points="1460.0,655.1 1478.8,662.6 1497.5,670.1 1510.0,675.1 1528.8,678.8 1547.6,672.6 1557.6,667.6 1566.3,660.1 1578.9,662.6 1613.9,663.8 1623.9,661.3 1628.9,651.3 1637.7,644.4 1660.2,643.8 1685.2,642.5 1700.0,639.4" fill="none" stroke="#000" stroke-width="2.20"/>
<polyline points="1560.1,641.9 1585.1,650.1" fill="none" stroke="#000" stroke-width="2.20"/>
<polyline points="1563.8,643.8 1582.6,662.6" fill="none" stroke="#000" stroke-width="2.00"/>
<polyline points="1583.9,645.1 1623.9,660.7" fill="none" stroke="#000" stroke-width="2.20"/>
<polyline points="1591.4,640.0 1632.7,655.7" fill="none" stroke="#000" stroke-width="2.20"/>
<polyline points="1601.4,648.8 1613.9,663.8" fill="none" stroke="#000" stroke-width="2.00"/>
<polygon points="1566.3,660.1 1572.6,652.6 1570.1,656.3" fill="#000"/>
<ellipse cx="1505.0" cy="663.8" rx="6.9" ry="2.8" transform="rotate(15.0 1505.0 663.8)" fill="none" stroke="#000" stroke-width="1.80"/>
<ellipse cx="1521.3" cy="663.8" rx="2.5" ry="1.8" transform="rotate(30.0 1521.3 663.8)" fill="none" stroke="#000" stroke-width="1.60"/>
<polyline points="1537.6,655.1 1546.3,650.1 1555.1,648.8 1560.1,655.1 1555.1,665.1 1547.6,670.1 1537.6,665.1 1535.1,660.1" fill="none" stroke="#000" stroke-width="1.60"/>
<text x="1574.2" y="682.2" font-family="Liberation Sans" font-weight="bold" font-size="14.17" textLength="93.2" lengthAdjust="spacingAndGlyphs">TOBOGGAN</text>
<polyline points="1555.1,673.2 1571.4,677.0" fill="none" stroke="#000" stroke-width="1.80"/>
<polyline points="1506.3,631.9 1506.3,650.1" fill="none" stroke="#000" stroke-width="1.60" stroke-dasharray="1.5 1.5"/>
<polyline points="1506.9,678.2 1506.9,696.3" fill="none" stroke="#000" stroke-width="1.60" stroke-dasharray="1.5 1.5"/>
<polyline points="1686.5,608.8 1686.5,627.5" fill="none" stroke="#000" stroke-width="1.60" stroke-dasharray="1.5 1.5"/>
<polyline points="1687.7,650.7 1687.7,666.3" fill="none" stroke="#000" stroke-width="1.60" stroke-dasharray="1.5 1.5"/>
<polyline points="1470.0,639.4 1463.8,648.8" fill="none" stroke="#000" stroke-width="1.60"/>
<polyline points="1470.0,626.3 1468.8,621.3 1472.5,613.8 1478.8,610.6 1480.0,615.0 1476.3,622.5 1472.5,627.5 1470.0,626.3" fill="none" stroke="#000" stroke-width="2.20"/>
<polyline points="1460.0,619.0 1465.0,619.0" fill="none" stroke="#000" stroke-width="1.80"/>
<polyline points="1481.9,619.0 1490.0,619.0" fill="none" stroke="#000" stroke-width="1.80"/>
<polygon points="1803.4,571.7 1815.1,580.0 1826.7,590.0 1840.1,596.7 1846.8,600.1 1848.4,610.1 1856.8,611.7 1861.8,616.7 1860.1,626.7 1848.4,636.8 1840.1,643.4 1835.9,646.8 1803.1,646.8 1803.4,643.4 1806.7,633.4 1815.1,626.7 1823.4,616.7 1826.7,606.7 1823.4,597.6 1816.7,596.7 1806.7,591.7 1793.4,583.4 1781.7,573.4" fill="url(#bo)"/>
<polygon points="1835.9,646.8 1833.4,650.1 1831.8,656.8 1838.4,668.5 1845.1,680.1 1846.8,690.1 1841.8,706.8 1838.4,720.0 1820.1,720.0 1821.7,706.8 1825.1,693.5 1823.4,681.8 1816.7,673.5 1805.1,666.8 1801.7,656.8 1803.1,646.8" fill="url(#st)"/>
<circle cx="1815.1" cy="653.4" r="2.2" fill="#fff" stroke="#000" stroke-width="1.20"/>
<circle cx="1817.9" cy="662.0" r="2.2" fill="#fff" stroke="#000" stroke-width="1.20"/>
<circle cx="1823.2" cy="669.2" r="2.2" fill="#fff" stroke="#000" stroke-width="1.20"/>
<circle cx="1827.6" cy="676.8" r="2.2" fill="#fff" stroke="#000" stroke-width="1.20"/>
<circle cx="1829.8" cy="685.5" r="2.2" fill="#fff" stroke="#000" stroke-width="1.20"/>
<polyline points="1803.4,571.7 1815.1,580.0 1826.7,590.0 1833.4,593.4 1840.1,596.7" fill="none" stroke="#000" stroke-width="2.20"/>
<polyline points="1781.7,573.4 1793.4,583.4 1806.7,591.7 1816.7,596.7 1823.4,597.6" fill="none" stroke="#000" stroke-width="2.20"/>
<polyline points="1825.1,578.4 1831.8,575.9 1836.8,581.7 1840.1,595.1 1833.4,595.1 1826.7,590.0 1824.2,583.4 1825.1,578.4" fill="#fff" stroke="#000" stroke-width="2.20"/>
<polyline points="1840.1,595.1 1846.8,600.1 1848.4,610.1 1856.8,611.7 1861.8,616.7 1860.1,626.7 1848.4,636.8 1840.1,643.4 1833.4,650.1 1831.8,656.8 1838.4,668.5 1845.1,680.1 1846.8,690.1 1841.8,706.8 1838.4,720.0" fill="none" stroke="#000" stroke-width="2.20"/>
<polyline points="1823.4,597.6 1826.7,606.7 1823.4,616.7 1815.1,626.7 1806.7,633.4 1803.4,643.4 1801.7,656.8 1805.1,666.8 1816.7,673.5 1823.4,681.8 1825.1,693.5 1821.7,706.8 1820.1,720.0" fill="none" stroke="#000" stroke-width="2.20"/>
<polyline points="1843.4,601.7 1848.4,606.7 1846.8,618.4 1840.1,626.7 1830.1,633.4 1823.4,633.4" fill="none" stroke="#000" stroke-width="1.60"/>
<polyline points="1853.4,615.1 1858.4,618.4 1855.1,626.7 1848.4,630.1" fill="none" stroke="#000" stroke-width="1.60"/>
<polyline points="1833.4,720.0 1838.4,706.8 1840.1,693.5" fill="none" stroke="#000" stroke-width="1.60"/>
<polyline points="1855.1,595.1 1864.3,595.1" fill="none" stroke="#000" stroke-width="1.80"/>
<polyline points="1850.1,595.9 1843.4,600.9" fill="none" stroke="#000" stroke-width="1.60"/>
<polyline points="1806.7,571.7 1811.7,568.4" fill="none" stroke="#000" stroke-width="1.60"/>
<polyline points="1771.7,620.1 1790.0,621.7 1803.4,626.7 1813.4,630.1" fill="none" stroke="#000" stroke-width="2.20"/>
<polyline points="1831.8,540.0 1830.1,546.7 1833.4,550.0 1832.6,558.4 1836.8,559.2 1837.6,550.0 1840.1,545.0 1838.4,540.0" fill="none" stroke="#000" stroke-width="1.80"/>
<polyline points="1820.1,548.3 1826.7,548.3" fill="none" stroke="#000" stroke-width="1.60" stroke-dasharray="1.7 1.5"/>
<polyline points="1846.8,548.3 1850.9,548.3" fill="none" stroke="#000" stroke-width="1.60" stroke-dasharray="1.7 1.5"/>
<text x="797.0" y="57.1" font-family="Liberation Sans" font-weight="bold" font-size="13.66" textLength="21.5" lengthAdjust="spacingAndGlyphs">P.8</text>
<line x1="797.0" y1="60.1" x2="818.5" y2="60.1" stroke="#000" stroke-width="2.20"/>
<polyline points="823.2,30.7 830.1,30.7" fill="none" stroke="#000" stroke-width="2.00"/>
<polyline points="830.1,30.7 830.7,37.5 829.4,50.0 830.1,62.6 829.4,76.9" fill="none" stroke="#000" stroke-width="2.40"/>
<polyline points="842.6,33.8 842.6,68.2" fill="none" stroke="#000" stroke-width="2.20"/>
<polyline points="840.1,28.2 838.2,25.0 838.8,17.5 842.6,11.3 845.1,8.1 847.0,15.0 847.0,22.5 845.1,28.2 842.6,29.4 840.1,28.2" fill="none" stroke="#000" stroke-width="1.60"/>
<polyline points="841.3,25.0 842.6,17.5 844.5,12.5" fill="none" stroke="#000" stroke-width="1.20"/>
<ellipse cx="843.0" cy="25.6" rx="2.0" ry="1.8" transform="rotate(0.0 843.0 25.6)" fill="none" stroke="#000" stroke-width="1.40"/>
<polyline points="834.4,32.3 843.2,32.8" fill="none" stroke="#000" stroke-width="1.60" stroke-dasharray="4.0 3.0"/>
<polyline points="847.6,33.8 852.0,30.0 858.8,29.8" fill="none" stroke="#000" stroke-width="1.40" stroke-dasharray="5.0 3.0"/>
<polyline points="862.6,30.7 865.7,30.7" fill="none" stroke="#000" stroke-width="2.00"/>
<polyline points="862.6,30.7 861.6,41.3 861.3,51.3 866.3,58.8 878.9,66.3 891.4,75.1 906.4,71.3 921.4,77.6 933.9,83.8 941.4,87.6 945.2,92.6 946.4,98.8 946.4,113.2" fill="none" stroke="#000" stroke-width="2.20"/>
<polyline points="933.3,85.1 933.3,113.2" fill="none" stroke="#000" stroke-width="2.00"/>
<polyline points="927.7,101.3 943.9,101.3" fill="none" stroke="#000" stroke-width="1.60" stroke-dasharray="4.0 3.0"/>
<polyline points="926.4,102.0 925.8,113.2" fill="none" stroke="#000" stroke-width="1.60" stroke-dasharray="4.0 3.0"/>
<circle cx="832.6" cy="68.8" r="2.0" fill="#fff" stroke="#000" stroke-width="1.40"/>
<circle cx="836.3" cy="69.4" r="2.0" fill="#fff" stroke="#000" stroke-width="1.40"/>
<circle cx="840.1" cy="69.9" r="2.0" fill="#fff" stroke="#000" stroke-width="1.40"/>
<circle cx="843.8" cy="70.5" r="2.0" fill="#fff" stroke="#000" stroke-width="1.40"/>
<circle cx="847.6" cy="71.3" r="2.0" fill="#fff" stroke="#000" stroke-width="1.40"/>
<circle cx="851.3" cy="72.1" r="2.0" fill="#fff" stroke="#000" stroke-width="1.40"/>
<circle cx="855.0" cy="72.9" r="2.0" fill="#fff" stroke="#000" stroke-width="1.40"/>
<circle cx="858.7" cy="73.8" r="2.0" fill="#fff" stroke="#000" stroke-width="1.40"/>
<circle cx="861.9" cy="75.7" r="2.0" fill="#fff" stroke="#000" stroke-width="1.40"/>
<circle cx="865.0" cy="78.0" r="2.0" fill="#fff" stroke="#000" stroke-width="1.40"/>
<circle cx="867.8" cy="80.5" r="2.0" fill="#fff" stroke="#000" stroke-width="1.40"/>
<circle cx="870.6" cy="83.1" r="2.0" fill="#fff" stroke="#000" stroke-width="1.40"/>
<circle cx="873.3" cy="85.8" r="2.0" fill="#fff" stroke="#000" stroke-width="1.40"/>
<circle cx="876.0" cy="88.5" r="2.0" fill="#fff" stroke="#000" stroke-width="1.40"/>
<circle cx="879.4" cy="90.1" r="2.0" fill="#fff" stroke="#000" stroke-width="1.40"/>
<circle cx="882.9" cy="91.6" r="2.0" fill="#fff" stroke="#000" stroke-width="1.40"/>
<circle cx="886.2" cy="93.4" r="2.0" fill="#fff" stroke="#000" stroke-width="1.40"/>
<circle cx="889.1" cy="95.8" r="2.0" fill="#fff" stroke="#000" stroke-width="1.40"/>
<circle cx="892.0" cy="98.3" r="2.0" fill="#fff" stroke="#000" stroke-width="1.40"/>
<circle cx="894.3" cy="101.3" r="2.0" fill="#fff" stroke="#000" stroke-width="1.40"/>
<circle cx="896.7" cy="104.3" r="2.0" fill="#fff" stroke="#000" stroke-width="1.40"/>
<circle cx="899.1" cy="107.2" r="2.0" fill="#fff" stroke="#000" stroke-width="1.40"/>
<circle cx="901.5" cy="110.1" r="2.0" fill="#fff" stroke="#000" stroke-width="1.40"/>
<circle cx="905.1" cy="111.4" r="2.0" fill="#fff" stroke="#000" stroke-width="1.40"/>
<circle cx="908.6" cy="112.7" r="2.0" fill="#fff" stroke="#000" stroke-width="1.40"/>
<circle cx="912.3" cy="113.7" r="2.0" fill="#fff" stroke="#000" stroke-width="1.40"/>
<circle cx="916.0" cy="114.4" r="2.0" fill="#fff" stroke="#000" stroke-width="1.40"/>
<circle cx="919.8" cy="115.2" r="2.0" fill="#fff" stroke="#000" stroke-width="1.40"/>
<circle cx="923.5" cy="115.8" r="2.0" fill="#fff" stroke="#000" stroke-width="1.40"/>
<circle cx="927.3" cy="116.2" r="2.0" fill="#fff" stroke="#000" stroke-width="1.40"/>
<circle cx="931.1" cy="116.6" r="2.0" fill="#fff" stroke="#000" stroke-width="1.40"/>
<circle cx="934.8" cy="117.0" r="2.0" fill="#fff" stroke="#000" stroke-width="1.40"/>
<circle cx="938.6" cy="116.5" r="2.0" fill="#fff" stroke="#000" stroke-width="1.40"/>
<circle cx="942.4" cy="115.9" r="2.0" fill="#fff" stroke="#000" stroke-width="1.40"/>
<circle cx="946.1" cy="115.3" r="2.0" fill="#fff" stroke="#000" stroke-width="1.40"/>
<circle cx="949.9" cy="114.7" r="2.0" fill="#fff" stroke="#000" stroke-width="1.40"/>
<circle cx="953.6" cy="113.9" r="2.0" fill="#fff" stroke="#000" stroke-width="1.40"/>
<circle cx="957.3" cy="113.2" r="2.0" fill="#fff" stroke="#000" stroke-width="1.40"/>
<circle cx="961.0" cy="112.4" r="2.0" fill="#fff" stroke="#000" stroke-width="1.40"/>
<circle cx="964.7" cy="111.3" r="2.0" fill="#fff" stroke="#000" stroke-width="1.40"/>
<circle cx="968.3" cy="110.3" r="2.0" fill="#fff" stroke="#000" stroke-width="1.40"/>
<polyline points="859.5,109.7 867.0,109.7" fill="none" stroke="#000" stroke-width="2.20"/>
<text x="871.7" y="114.1" font-family="Liberation Sans" font-weight="bold" font-size="11.60" textLength="13.7" lengthAdjust="spacingAndGlyphs">18</text>
<text x="869.8" y="30.9" font-family="Liberation Sans" font-weight="bold" font-size="9.32" textLength="5.6" lengthAdjust="spacingAndGlyphs">±</text>
<text x="876.1" y="30.9" font-family="Liberation Sans" font-weight="bold" font-size="11.94" textLength="10.0" lengthAdjust="spacingAndGlyphs">0</text>
<polyline points="946.4,102.0 972.7,100.7 1000.0,98.2" fill="none" stroke="#000" stroke-width="2.20"/>
<polyline points="968.9,110.1 1000.0,103.8" fill="none" stroke="#000" stroke-width="2.20"/>
<polyline points="1080.0,90.7 1113.8,90.3 1141.3,90.0 1150.1,88.2 1165.1,85.0 1168.8,83.5 1173.8,85.6 1177.6,92.5 1182.6,96.9 1188.9,95.7 1205.1,88.2 1217.6,82.5 1223.9,77.5 1227.6,68.8 1233.9,66.0" fill="none" stroke="#000" stroke-width="2.20"/>
<polyline points="1080.0,93.8 1097.5,94.4 1117.5,94.8 1127.5,95.7 1132.5,100.0 1137.6,103.2" fill="none" stroke="#000" stroke-width="2.20"/>
<ellipse cx="1143.2" cy="97.2" rx="4.8" ry="1.5" transform="rotate(10.0 1143.2 97.2)" fill="none" stroke="#000" stroke-width="1.40"/>
<polyline points="1215.1,89.4 1217.0,128.2 1218.9,136.3" fill="none" stroke="#000" stroke-width="2.00"/>
<polyline points="1218.9,137.6 1217.6,195.0" fill="none" stroke="#000" stroke-width="1.50" stroke-dasharray="6.0 4.0"/>
<polyline points="1207.6,96.3 1212.6,96.3 1212.6,107.5 1208.9,105.7 1206.4,101.3 1207.6,96.3" fill="none" stroke="#000" stroke-width="1.40"/>
<polyline points="1225.1,90.0 1231.4,88.2 1236.4,91.3 1237.0,96.3 1230.1,100.0 1223.3,93.8 1225.1,90.0" fill="none" stroke="#000" stroke-width="1.50" stroke-dasharray="5.0 4.0"/>
<polyline points="1242.7,113.8 1238.9,153.8 1237.6,195.0" fill="none" stroke="#000" stroke-width="2.20"/>
<polyline points="1217.0,128.2 1211.4,135.1 1205.1,141.3 1200.1,148.8 1198.9,158.8 1196.4,166.3 1180.1,170.1 1170.1,176.4 1150.1,178.2 1132.5,173.9 1096.3,174.5 1088.8,174.5 1087.5,178.9 1091.3,182.0 1095.0,182.0" fill="none" stroke="#000" stroke-width="2.20"/>
<polyline points="1090.6,177.6 1091.3,195.0" fill="none" stroke="#000" stroke-width="2.20"/>
<polyline points="1200.1,158.8 1205.1,163.8 1207.6,195.0" fill="none" stroke="#000" stroke-width="1.80" stroke-dasharray="8.0 5.0"/>
<polyline points="1217.6,130.1 1206.4,145.1 1203.9,158.8" fill="none" stroke="#000" stroke-width="1.60" stroke-dasharray="8.0 5.0"/>
<polyline points="1196.4,168.9 1180.1,186.4 1130.0,192.6 1105.0,195.0" fill="none" stroke="#000" stroke-width="1.80" stroke-dasharray="8.0 5.0"/>
<polyline points="1263.9,178.2 1238.9,190.7" fill="none" stroke="#000" stroke-width="1.60" stroke-dasharray="8.0 5.0"/>
<polyline points="192.5,202.4 200.4,202.4" fill="none" stroke="#000" stroke-width="2.20"/>
<text x="205.5" y="206.5" font-family="Liberation Sans" font-weight="bold" font-size="12.39" textLength="21.0" lengthAdjust="spacingAndGlyphs">40</text>
<polyline points="232.5,202.9 258.3,199.0 305.3,193.5 336.6,191.6 360.1,192.2 383.6,198.2 407.1,203.7 430.6,212.3 443.1,223.3 449.4,237.3 454.1,249.9 461.9,254.6 471.3,256.9 479.9,251.4" fill="none" stroke="#000" stroke-width="2.20"/>
<polyline points="232.5,202.6 236.4,202.1 234.8,204.8 232.5,203.7" fill="#000" stroke="#000" stroke-width="2.00"/>
<polyline points="232.5,203.7 258.3,204.5 289.6,203.2 313.1,202.9 321.0,206.8 336.6,210.7 339.8,211.5 346.0,207.6 357.0,206.8" fill="none" stroke="#000" stroke-width="2.20"/>
<polyline points="353.9,202.9 361.7,207.6 380.5,213.9 396.1,226.4 407.1,242.0 413.4,246.7 430.6,251.4 446.3,257.7 461.9,264.0 479.9,267.1" fill="none" stroke="#000" stroke-width="2.20"/>
<polyline points="360.1,209.9 380.5,216.2 394.6,228.7 405.5,244.4 411.8,247.5" fill="none" stroke="#000" stroke-width="1.20"/>
<polyline points="382.0,189.6 382.8,215.4" fill="none" stroke="#000" stroke-width="2.60"/>
<polyline points="402.4,229.5 455.7,211.5" fill="none" stroke="#000" stroke-width="1.80"/>
<polyline points="339.8,211.5 333.5,223.3 328.0,238.9 326.4,251.4 330.4,267.1 330.4,276.5 321.0,287.5 320.2,318.8" fill="none" stroke="#000" stroke-width="2.20"/>
<polyline points="342.1,213.1 343.7,229.5 355.4,242.0 358.6,254.6 360.1,270.2 361.7,276.5 361.7,289.0 358.6,303.1" fill="none" stroke="#000" stroke-width="2.20"/>
<polyline points="358.6,303.1 357.0,308.6" fill="none" stroke="#000" stroke-width="3.00"/>
<polyline points="343.7,206.0 342.9,210.7" fill="none" stroke="#000" stroke-width="1.50"/>
<polyline points="339.8,210.7 338.2,312.5" fill="none" stroke="#000" stroke-width="1.20" stroke-dasharray="1.6 1.5 1.5 1.5"/>
<polyline points="336.6,229.5 334.3,235.8 335.8,238.9" fill="none" stroke="#000" stroke-width="1.40"/>
<text x="380.2" y="281.1" font-family="Liberation Sans" font-weight="bold" font-size="12.39" textLength="27.2" lengthAdjust="spacingAndGlyphs">P.31</text>
<line x1="380.2" y1="284.6" x2="407.4" y2="284.6" stroke="#000" stroke-width="2.00"/>
<polyline points="361.7,273.4 377.3,277.3" fill="none" stroke="#000" stroke-width="1.80"/>
<polyline points="410.2,278.9 420.4,289.0" fill="none" stroke="#000" stroke-width="1.80"/>
<polyline points="401.6,299.2 401.6,320.4" fill="none" stroke="#000" stroke-width="1.80"/>
<polyline points="443.1,300.0 455.7,296.1 469.8,296.9 479.9,300.0" fill="none" stroke="#000" stroke-width="2.20"/>
<polyline points="313.1,322.7 316.3,321.9" fill="none" stroke="#000" stroke-width="1.50"/>
<text x="457.8" y="216.9" font-family="Liberation Sans" font-weight="bold" font-size="13.83" textLength="89.4" lengthAdjust="spacingAndGlyphs">ESCALADE</text>
<polyline points="440.0,217.5 454.4,211.9" fill="none" stroke="#000" stroke-width="1.80"/>
<polyline points="440.0,222.5 446.3,230.1 452.5,245.1 458.8,253.8 471.3,257.0 481.3,250.1 497.6,242.6 515.1,246.3 527.6,248.8 535.1,240.1 540.1,228.2 565.1,226.3 590.1,226.9 602.7,223.8 627.7,221.3 665.2,221.3 680.0,226.3" fill="none" stroke="#000" stroke-width="2.20"/>
<polyline points="542.6,230.7 543.8,237.6 550.1,242.6 551.4,247.6 546.3,253.8 537.6,258.2 530.1,258.8" fill="none" stroke="#000" stroke-width="1.80" stroke-dasharray="3.8 1.8"/>
<polyline points="440.0,255.1 465.0,265.1 490.0,268.8 508.8,271.3 522.6,270.7 546.3,270.1 565.1,257.6 575.1,250.1 590.1,246.9 615.2,245.1 640.2,245.1 667.7,243.2 680.0,251.3" fill="none" stroke="#000" stroke-width="2.20"/>
<polyline points="1000.2,98.1 1080.3,90.6" fill="none" stroke="#000" stroke-width="2.20"/>
<polyline points="1000.2,104.1 1080.3,93.8" fill="none" stroke="#000" stroke-width="2.20"/>
<polyline points="1040.0,351.3 1090.0,332.5" fill="none" stroke="#000" stroke-width="2.20"/>
<polyline points="1040.0,335.7 1058.8,336.3 1087.5,333.8 1107.6,333.8" fill="none" stroke="#000" stroke-width="2.00"/>
<polyline points="1040.0,345.1 1050.0,341.9" fill="none" stroke="#000" stroke-width="2.00"/>
<text x="1273.7" y="309.4" font-family="Liberation Sans" font-weight="bold" font-size="12.18" textLength="14.6" lengthAdjust="spacingAndGlyphs">61</text>
<polyline points="1262.4,304.3 1271.2,304.3" fill="none" stroke="#000" stroke-width="1.80"/>
<ellipse cx="399.0" cy="325.1" rx="2.9" ry="4.4" transform="rotate(30.0 399.0 325.1)" fill="#000" stroke="#000" stroke-width="1.00"/>
<polyline points="403.0,321.5 411.0,315.6 414.0,309.0 412.5,301.0" fill="none" stroke="#000" stroke-width="1.60" stroke-dasharray="2.2 1.5"/>
<polyline points="412.5,301.0 411.8,304.6 414.0,310.5" fill="none" stroke="#000" stroke-width="1.40"/>
<polyline points="1138.1,103.7 1138.7,107.5 1145.0,108.7 1151.2,110.6 1157.5,107.5 1163.7,104.3 1168.1,106.2 1167.5,110.0" fill="none" stroke="#000" stroke-width="2.00"/>
<polyline points="1140.0,105.0 1146.2,106.2 1152.5,105.0 1156.8,105.6" fill="none" stroke="#000" stroke-width="1.50"/>
<polyline points="1160.6,111.2 1165.0,115.0 1169.3,115.6 1172.4,113.1 1174.9,111.2" fill="none" stroke="#000" stroke-width="2.00"/>
<polyline points="1163.7,116.2 1167.5,117.5 1173.1,118.1" fill="none" stroke="#000" stroke-width="2.00"/>
<polyline points="1172.4,109.3 1173.1,112.5 1177.4,113.1" fill="none" stroke="#000" stroke-width="2.00"/>
<polyline points="1176.2,120.0 1179.9,117.5 1188.1,117.5 1187.4,120.6 1182.4,122.5 1178.7,120.0" fill="none" stroke="#000" stroke-width="2.00"/>
<polyline points="1192.4,117.5 1199.9,118.7" fill="none" stroke="#000" stroke-width="2.00"/>
<polyline points="1199.3,114.3 1201.2,120.0 1211.2,126.8" fill="none" stroke="#000" stroke-width="2.00"/>
<polyline points="1189.9,123.7 1194.9,126.2 1201.2,126.2 1204.3,123.7" fill="none" stroke="#000" stroke-width="1.80"/>
<polyline points="1196.8,131.2 1204.3,131.2 1208.7,128.7 1211.2,126.8" fill="none" stroke="#000" stroke-width="2.00"/>
<ellipse cx="1216.8" cy="129.9" rx="2.2" ry="4.4" transform="rotate(15.0 1216.8 129.9)" fill="#000" stroke="#000" stroke-width="1.00"/>
<polyline points="941.7,188.8 946.4,198.3" fill="none" stroke="#000" stroke-width="1.80" stroke-dasharray="1.5 1.5"/>
<polyline points="947.1,187.4 949.1,190.1" fill="none" stroke="#000" stroke-width="1.60" stroke-dasharray="1.5 1.5"/>
<polyline points="949.8,192.9 952.5,195.6" fill="none" stroke="#000" stroke-width="1.60" stroke-dasharray="1.5 1.5"/>
<polyline points="953.2,197.6 954.5,203.0 960.0,203.7" fill="none" stroke="#000" stroke-width="2.00"/>
<polyline points="955.9,187.4 966.0,200.3 975.5,204.3 978.2,203.0 975.5,196.2 972.1,191.5" fill="none" stroke="#000" stroke-width="2.00"/>
<polyline points="971.5,192.9 978.2,188.8 985.0,204.3" fill="none" stroke="#000" stroke-width="2.00"/>
<polyline points="987.0,189.5 992.4,203.0" fill="none" stroke="#000" stroke-width="2.60"/>
<polyline points="987.7,190.1 995.1,195.6 1000.0,197.6" fill="none" stroke="#000" stroke-width="2.20"/>
<polyline points="904.5,207.1 900.4,212.5 903.1,215.2 907.9,213.1 920.7,205.7 932.2,209.1 937.6,207.7" fill="none" stroke="#000" stroke-width="2.00"/>
<polyline points="937.6,207.7 944.4,207.7" fill="none" stroke="#000" stroke-width="3.50"/>
<polyline points="937.0,207.1 937.0,201.6 941.0,198.9 945.8,198.3" fill="none" stroke="#000" stroke-width="2.00"/>
<polyline points="885.6,209.8 886.9,226.0" fill="none" stroke="#000" stroke-width="2.20"/>
<polyline points="891.0,208.4 893.7,217.9" fill="none" stroke="#000" stroke-width="2.20"/>
<polyline points="897.1,207.7 893.7,211.8" fill="none" stroke="#000" stroke-width="2.00"/>
<polyline points="941.0,214.5 956.6,213.8" fill="none" stroke="#000" stroke-width="1.40"/>
<polyline points="987.6,189.4 995.1,195.0 1001.4,200.0 1011.4,201.3" fill="none" stroke="#000" stroke-width="2.20"/>
<text x="157.0" y="335.9" font-family="Liberation Sans" font-weight="bold" font-size="12.27" textLength="90.5" lengthAdjust="spacingAndGlyphs">CHEMINÉE  DU</text>
<text x="158.3" y="347.2" font-family="Liberation Sans" font-weight="bold" font-size="12.27" textLength="89.3" lengthAdjust="spacingAndGlyphs">CONTRACTUEL</text>
<polyline points="157.3,337.5 144.8,348.7" fill="none" stroke="#000" stroke-width="1.60"/>
<text x="32.2" y="380.6" font-family="Liberation Sans" font-weight="bold" font-size="8.26" textLength="46.8" lengthAdjust="spacingAndGlyphs">EN  COURS</text>
<text x="23.4" y="389.6" font-family="Liberation Sans" font-weight="bold" font-size="7.93" textLength="63.0" lengthAdjust="spacingAndGlyphs">D'EXPLORATION</text>
<polyline points="89.9,387.4 101.1,387.4" fill="none" stroke="#000" stroke-width="1.80"/>
<polyline points="88.7,374.9 127.4,374.9 133.6,364.9 139.9,347.5 144.8,343.7" fill="none" stroke="#000" stroke-width="2.20"/>
<polyline points="138.6,373.7 141.1,357.4 144.8,346.2" fill="none" stroke="#000" stroke-width="2.00"/>
<polyline points="138.6,373.7 162.3,368.7 197.3,369.9 199.8,366.2 202.3,371.2 234.8,364.9 247.2,368.7 262.2,354.9 264.7,341.2 272.2,349.9 299.7,353.7 324.7,358.7 333.4,358.7 332.2,354.9" fill="none" stroke="#000" stroke-width="2.20"/>
<polyline points="329.7,342.0 335.7,342.2 346.6,346.5 350.9,346.5 355.4,348.7 366.9,354.4 373.6,350.7 374.4,346.5 378.9,343.5 379.6,337.7 387.6,339.7 389.8,334.0 395.1,330.2 399.3,324.5" fill="none" stroke="#000" stroke-width="2.20"/>
<polyline points="144.8,393.7 174.8,389.9 197.3,383.7 212.3,384.9 249.7,379.9 289.7,369.9 312.2,367.4 324.7,374.9 334.7,374.9" fill="none" stroke="#000" stroke-width="2.20"/>
<polyline points="104.9,381.2 117.4,379.9 129.9,382.4 129.9,388.7 114.9,388.7" fill="none" stroke="#000" stroke-width="1.60" stroke-dasharray="8.0 5.0"/>
<polyline points="101.1,387.4 102.4,407.4 101.1,429.9 99.9,431.1" fill="none" stroke="#000" stroke-width="2.20"/>
<polyline points="148.6,393.7 134.9,399.9 129.9,409.9 128.6,429.9 136.1,429.9" fill="none" stroke="#000" stroke-width="2.20"/>
<polyline points="129.9,390.4 144.8,392.9 134.9,399.9 129.9,390.4" fill="none" stroke="#000" stroke-width="1.80"/>
<polyline points="122.4,384.9 122.4,432.4" fill="none" stroke="#000" stroke-width="1.20"/>
<polyline points="88.7,436.1 99.9,432.4 137.4,432.4 147.3,436.9" fill="none" stroke="#000" stroke-width="2.20"/>
<text x="60.9" y="415.6" font-family="Liberation Sans" font-weight="bold" font-size="13.29" textLength="28.1" lengthAdjust="spacingAndGlyphs">P.10</text>
<line x1="60.9" y1="419.6" x2="89.0" y2="419.6" stroke="#000" stroke-width="2.00"/>
<polyline points="51.2,440.4 61.2,440.4" fill="none" stroke="#000" stroke-width="2.20"/>
<text x="62.6" y="444.5" font-family="Liberation Sans" font-weight="bold" font-size="12.95" textLength="20.1" lengthAdjust="spacingAndGlyphs">92</text>
<polyline points="51.2,446.6 83.7,446.6" fill="none" stroke="#000" stroke-width="2.00"/>
<ellipse cx="164.1" cy="386.2" rx="12.0" ry="2.0" transform="rotate(-10.0 164.1 386.2)" fill="none" stroke="#000" stroke-width="1.80"/>
<ellipse cx="251.5" cy="375.4" rx="5.5" ry="2.5" transform="rotate(10.0 251.5 375.4)" fill="none" stroke="#000" stroke-width="1.60"/>
<text x="199.5" y="435.8" font-family="Liberation Sans" font-weight="bold" font-size="7.59" textLength="136.7" lengthAdjust="spacingAndGlyphs">COMPLEMENT  TOPO  SCVJ  18.8.79</text>
<polyline points="182.3,439.4 339.6,441.1 339.6,367.4" fill="none" stroke="#000" stroke-width="1.80"/>
<polyline points="182.3,439.4 189.8,437.9 189.8,440.9 182.3,439.4" fill="#000" stroke="#000" stroke-width="1.50"/>
<polyline points="332.2,367.4 349.6,371.2 354.6,384.9 354.6,399.9 357.1,412.4 353.4,418.6 347.1,423.6" fill="none" stroke="#000" stroke-width="2.20"/>
<polyline points="352.1,418.6 382.1,418.6 384.6,419.9" fill="none" stroke="#000" stroke-width="2.20"/>
<polyline points="379.6,417.4 377.1,399.9 377.1,362.4 381.4,351.9 385.1,349.9 404.3,351.4 408.6,355.9 413.1,358.7" fill="none" stroke="#000" stroke-width="2.20"/>
<polyline points="364.6,366.2 364.6,417.4" fill="none" stroke="#000" stroke-width="1.20"/>
<polyline points="343.6,354.4 349.6,353.4 364.6,356.7 373.4,358.4 372.6,360.4 364.6,360.9 343.6,358.2 343.6,354.4" fill="none" stroke="#000" stroke-width="2.00"/>
<text x="390.5" y="394.1" font-family="Liberation Sans" font-weight="bold" font-size="13.29" textLength="26.8" lengthAdjust="spacingAndGlyphs">P.12</text>
<line x1="390.5" y1="398.1" x2="417.4" y2="398.1" stroke="#000" stroke-width="2.00"/>
<polyline points="382.6,415.4 392.1,415.4" fill="none" stroke="#000" stroke-width="2.00"/>
<text x="393.8" y="420.1" font-family="Liberation Sans" font-weight="bold" font-size="12.95" textLength="17.3" lengthAdjust="spacingAndGlyphs">88</text>
<polyline points="392.1,342.5 407.1,342.5 399.6,325.0 392.1,342.5" fill="none" stroke="#000" stroke-width="2.00"/>
<polyline points="431.3,250.0 450.0,258.8 475.1,266.3 506.3,270.6 522.6,271.9 537.6,270.0 550.1,267.5 562.7,257.5 575.2,250.0" fill="none" stroke="#000" stroke-width="2.20"/>
<ellipse cx="523.2" cy="275.6" rx="1.5" ry="2.8" transform="rotate(0.0 523.2 275.6)" fill="#000" stroke="#000" stroke-width="1.00"/>
<polyline points="530.1,258.8 540.1,256.3 550.1,250.0" fill="none" stroke="#000" stroke-width="1.80" stroke-dasharray="2.5 1.5"/>
<polyline points="453.8,250.0 458.8,252.5 472.6,256.9 482.6,250.0" fill="none" stroke="#000" stroke-width="2.00"/>
<polyline points="441.3,300.0 456.3,296.3 475.1,297.5 485.1,300.0 495.1,295.7 503.8,296.3 512.6,297.5 513.9,281.3 521.4,280.7 523.2,275.0" fill="none" stroke="#000" stroke-width="2.20"/>
<polyline points="523.2,275.0 522.6,336.3" fill="none" stroke="#000" stroke-width="1.40"/>
<polyline points="525.1,280.7 532.6,285.0 535.1,300.0 535.8,307.6 535.1,313.8 540.1,316.3 550.1,316.3 549.5,322.6 545.1,328.8 541.4,335.1 536.4,338.2 512.6,338.8 475.1,339.1 456.3,341.3 437.5,350.1 422.5,356.3 417.5,357.6" fill="none" stroke="#000" stroke-width="2.20"/>
<polyline points="443.2,287.5 441.3,300.0 437.5,312.6 432.5,322.6 421.3,326.3 407.5,326.3" fill="none" stroke="#000" stroke-width="2.00" stroke-dasharray="3.0 1.5"/>
<ellipse cx="440.0" cy="335.1" rx="8.8" ry="2.3" transform="rotate(-30.0 440.0 335.1)" fill="none" stroke="#000" stroke-width="2.00"/>
<polyline points="416.9,293.8 416.3,358.9" fill="none" stroke="#000" stroke-width="1.40" stroke-dasharray="3.8 1.5 1.5 1.5"/>
<ellipse cx="412.5" cy="361.4" rx="1.3" ry="2.0" transform="rotate(0.0 412.5 361.4)" fill="#000" stroke="#000" stroke-width="1.00"/>
<polyline points="412.5,362.6 412.5,373.9" fill="none" stroke="#000" stroke-width="1.80" stroke-dasharray="1.8 1.5"/>
<polyline points="400.0,350.1 407.5,352.6 412.5,357.6" fill="none" stroke="#000" stroke-width="2.20"/>
<polyline points="413.8,301.3 412.5,306.3 413.8,311.3" fill="none" stroke="#000" stroke-width="1.40"/>
<text x="541.7" y="305.6" font-family="Liberation Sans" font-weight="bold" font-size="11.94" textLength="26.9" lengthAdjust="spacingAndGlyphs">P.15</text>
<line x1="541.7" y1="308.6" x2="568.6" y2="308.6" stroke="#000" stroke-width="2.20"/>
<polyline points="502.6,347.6 511.4,347.6" fill="none" stroke="#000" stroke-width="2.20"/>
<text x="514.8" y="352.8" font-family="Liberation Sans" font-weight="bold" font-size="11.60" textLength="16.9" lengthAdjust="spacingAndGlyphs">70</text>
<polyline points="547.0,346.3 555.1,346.3" fill="none" stroke="#000" stroke-width="2.20"/>
<text x="558.6" y="350.9" font-family="Liberation Sans" font-weight="bold" font-size="12.46" textLength="19.4" lengthAdjust="spacingAndGlyphs">73</text>
<polyline points="581.3,352.6 585.0,323.8 589.4,298.1 596.3,296.9 602.5,298.8 612.5,303.1 620.0,305.0 626.3,307.5 628.2,317.5 627.5,340.1 628.8,350.1 630.7,352.6 648.8,354.4 667.6,355.7 686.3,355.7 695.1,352.6 702.6,341.3 710.1,330.0 717.6,324.4 730.1,316.3 741.4,322.5 755.2,331.3 761.4,335.1 772.7,337.6 780.2,335.1 792.7,331.3 805.2,330.0 820.0,329.4" fill="none" stroke="#000" stroke-width="2.20"/>
<polyline points="581.3,353.2 611.3,355.1 655.1,357.6 665.1,362.6 667.6,365.1 677.6,366.3 680.1,361.3 688.9,361.3 692.6,366.3 700.1,368.8 705.1,370.1" fill="none" stroke="#000" stroke-width="2.20"/>
<polyline points="612.5,303.1 610.0,320.0 607.5,330.0 610.0,342.6 611.3,352.6" fill="none" stroke="#000" stroke-width="2.00"/>
<polyline points="610.7,321.3 608.8,332.5 610.7,340.1" fill="none" stroke="#000" stroke-width="1.40" stroke-dasharray="8.0 6.0"/>
<polyline points="624.4,302.5 632.5,302.5" fill="none" stroke="#000" stroke-width="2.20"/>
<text x="635.4" y="306.8" font-family="Liberation Sans" font-weight="bold" font-size="12.12" textLength="17.5" lengthAdjust="spacingAndGlyphs">69</text>
<polyline points="641.3,316.3 647.6,310.0 667.6,305.0 690.1,300.0 705.1,296.3 717.6,296.0 730.1,298.1 742.7,301.3 752.7,299.4 767.7,300.0 780.2,301.9 783.9,306.9 786.4,315.0 792.7,321.3 820.0,322.5" fill="none" stroke="#000" stroke-width="2.20"/>
<polyline points="641.3,316.3 655.1,315.0 680.1,311.3 705.1,308.2 717.6,307.5 723.9,311.3 731.4,316.3" fill="none" stroke="#000" stroke-width="2.20"/>
<polyline points="742.7,301.3 732.6,316.3" fill="none" stroke="#000" stroke-width="1.80" stroke-dasharray="1.8 1.5"/>
<polyline points="747.7,303.1 767.7,306.3 783.9,309.4" fill="none" stroke="#000" stroke-width="2.00"/>
<polyline points="746.4,322.5 767.7,320.7 786.4,318.2" fill="none" stroke="#000" stroke-width="2.00"/>
<polyline points="718.9,326.9 712.6,337.6 711.4,355.1 703.9,367.6" fill="none" stroke="#000" stroke-width="2.00"/>
<polyline points="733.9,335.1 760.2,336.9" fill="none" stroke="#000" stroke-width="2.00"/>
<polyline points="721.4,348.2 767.7,347.6" fill="none" stroke="#000" stroke-width="2.00"/>
<polyline points="725.1,358.8 766.4,358.8" fill="none" stroke="#000" stroke-width="2.00"/>
<polyline points="771.4,329.4 773.9,335.1 773.9,367.6" fill="none" stroke="#000" stroke-width="2.00"/>
<polyline points="705.1,370.1 723.9,367.6 755.2,368.8 773.9,367.6" fill="none" stroke="#000" stroke-width="2.20"/>
<polyline points="775.2,366.3 792.7,365.1 820.0,364.5" fill="none" stroke="#000" stroke-width="2.00" stroke-dasharray="3.8 1.8"/>
<polyline points="777.7,340.1 785.2,346.3 792.7,353.8 805.2,352.6" fill="none" stroke="#000" stroke-width="2.00"/>
<polyline points="805.2,352.6 820.0,349.4" fill="none" stroke="#000" stroke-width="2.00" stroke-dasharray="3.8 1.8"/>
<polyline points="787.7,370.1 799.0,370.7" fill="none" stroke="#000" stroke-width="1.80"/>
<text x="763.0" y="384.4" font-family="Liberation Sans" font-weight="bold" font-size="12.12" textLength="20.6" lengthAdjust="spacingAndGlyphs">P.7</text>
<line x1="763.0" y1="387.4" x2="783.6" y2="387.4" stroke="#000" stroke-width="2.20"/>
<polyline points="584.4,391.4 592.5,391.4" fill="none" stroke="#000" stroke-width="2.20"/>
<text x="596.0" y="395.6" font-family="Liberation Sans" font-weight="bold" font-size="12.63" textLength="19.4" lengthAdjust="spacingAndGlyphs">82</text>
<text x="586.6" y="364.0" font-family="Liberation Sans" font-weight="bold" font-size="6.79" textLength="4.4" lengthAdjust="spacingAndGlyphs">?</text>
<polyline points="598.8,360.7 627.5,366.3 635.1,372.6 647.6,373.2 652.6,368.8 667.6,367.6 702.6,369.5" fill="none" stroke="#000" stroke-width="2.00"/>
<polyline points="598.1,365.1 617.5,371.3 632.5,377.6 647.6,379.5 647.6,383.8" fill="none" stroke="#000" stroke-width="2.00"/>
<polyline points="647.6,379.5 658.8,376.3 667.6,372.6" fill="none" stroke="#000" stroke-width="2.00"/>
<polyline points="615.0,403.2 630.0,393.9 647.6,390.1 662.6,393.2 666.3,388.9 686.3,382.6 698.9,375.1 705.1,370.1" fill="none" stroke="#000" stroke-width="2.20"/>
<polyline points="630.0,393.9 647.6,383.8" fill="none" stroke="#000" stroke-width="2.00"/>
<polyline points="617.5,402.0 630.0,395.1 633.8,394.5" fill="none" stroke="#000" stroke-width="3.00"/>
<polyline points="665.1,378.8 675.1,378.2 678.8,382.0 665.1,383.2 665.1,378.8" fill="none" stroke="#000" stroke-width="1.80"/>
<polyline points="810.0,260.6 835.0,260.0 870.1,257.5 882.6,250.0" fill="none" stroke="#000" stroke-width="2.20"/>
<polyline points="810.0,252.5 826.3,252.5 827.5,250.0" fill="none" stroke="#000" stroke-width="2.00"/>
<polyline points="810.0,322.6 835.0,320.1 872.6,321.9 897.6,320.7 935.1,321.9 960.1,318.8 997.7,321.9 1029.0,323.8 1050.0,320.7" fill="none" stroke="#000" stroke-width="2.20"/>
<polyline points="810.0,330.1 847.5,329.1 890.1,332.6 897.6,336.3 910.1,337.6 935.1,336.3 960.1,339.5 978.9,336.3 997.7,333.8 1022.7,333.8 1050.0,335.7" fill="none" stroke="#000" stroke-width="2.20"/>
<polyline points="810.0,352.6 835.0,348.2 885.1,347.0 896.3,342.6 898.8,337.6" fill="none" stroke="#000" stroke-width="2.00" stroke-dasharray="3.8 1.8"/>
<polyline points="891.3,351.3 922.6,353.2" fill="none" stroke="#000" stroke-width="1.80"/>
<polyline points="916.3,347.0 960.1,348.2" fill="none" stroke="#000" stroke-width="1.80" stroke-dasharray="3.8 1.8"/>
<polyline points="961.4,351.3 1003.9,345.7" fill="none" stroke="#000" stroke-width="1.80" stroke-dasharray="3.8 1.8"/>
<polyline points="1005.2,342.0 1035.2,341.3" fill="none" stroke="#000" stroke-width="1.80"/>
<polyline points="998.9,352.6 1050.0,342.0" fill="none" stroke="#000" stroke-width="2.00"/>
<polyline points="810.0,363.9 847.5,365.7 897.6,365.1 960.1,363.9" fill="none" stroke="#000" stroke-width="2.00" stroke-dasharray="3.8 1.8"/>
<polyline points="960.1,363.9 997.7,360.1 1022.7,355.1 1050.0,347.0" fill="none" stroke="#000" stroke-width="2.20"/>
<polyline points="946.4,367.0 956.4,366.4" fill="none" stroke="#000" stroke-width="1.80"/>
<polyline points="1040.0,211.9 1071.3,210.6 1092.5,209.4 1121.3,206.3 1152.6,210.6 1165.1,209.4 1171.4,210.0 1183.9,217.5 1203.9,228.8 1207.7,232.5 1215.2,240.0" fill="none" stroke="#000" stroke-width="2.20"/>
<polyline points="1091.3,200.0 1090.0,225.0 1092.5,268.8" fill="none" stroke="#000" stroke-width="2.40"/>
<polyline points="1092.5,265.7 1127.6,264.4 1167.6,264.4 1177.6,263.8 1190.1,260.1" fill="none" stroke="#000" stroke-width="2.40"/>
<polyline points="1127.6,260.1 1142.6,260.7" fill="none" stroke="#000" stroke-width="1.80"/>
<polyline points="1042.5,259.4 1050.0,259.4" fill="none" stroke="#000" stroke-width="2.20"/>
<text x="1054.7" y="263.4" font-family="Liberation Sans" font-weight="bold" font-size="14.17" textLength="19.4" lengthAdjust="spacingAndGlyphs">52</text>
<polyline points="1205.2,200.0 1205.2,230.0 1201.4,236.3 1193.9,240.0 1181.4,243.2" fill="none" stroke="#000" stroke-width="2.20"/>
<polyline points="1165.1,226.3 1163.9,233.8 1170.1,250.0 1167.6,265.1 1168.9,287.6 1162.6,290.1 1155.1,295.1 1150.1,298.8 1115.1,306.3 1090.0,312.6 1065.0,318.9 1040.0,321.4" fill="none" stroke="#000" stroke-width="2.20"/>
<polyline points="1090.0,335.0 1115.1,323.9 1140.1,316.4 1165.1,310.1 1196.4,307.6 1221.4,310.1 1259.0,308.9" fill="none" stroke="#000" stroke-width="2.20"/>
<circle cx="1135.1" cy="317.6" r="1.6" fill="#fff" stroke="#000" stroke-width="1.20"/>
<circle cx="1137.9" cy="316.5" r="1.6" fill="#fff" stroke="#000" stroke-width="1.20"/>
<circle cx="1140.8" cy="315.4" r="1.6" fill="#fff" stroke="#000" stroke-width="1.20"/>
<circle cx="1143.6" cy="314.3" r="1.6" fill="#fff" stroke="#000" stroke-width="1.20"/>
<circle cx="1146.4" cy="313.2" r="1.6" fill="#fff" stroke="#000" stroke-width="1.20"/>
<circle cx="1149.4" cy="312.7" r="1.6" fill="#fff" stroke="#000" stroke-width="1.20"/>
<circle cx="1152.4" cy="312.2" r="1.6" fill="#fff" stroke="#000" stroke-width="1.20"/>
<circle cx="1155.4" cy="311.7" r="1.6" fill="#fff" stroke="#000" stroke-width="1.20"/>
<circle cx="1158.4" cy="311.2" r="1.6" fill="#fff" stroke="#000" stroke-width="1.20"/>
<circle cx="1161.4" cy="310.7" r="1.6" fill="#fff" stroke="#000" stroke-width="1.20"/>
<circle cx="1164.4" cy="310.2" r="1.6" fill="#fff" stroke="#000" stroke-width="1.20"/>
<polyline points="1237.7,200.0 1236.4,237.5 1246.4,242.5 1259.0,250.0 1265.2,260.1 1266.5,270.1 1267.7,275.1 1262.7,276.3 1257.7,280.1 1259.0,293.8 1260.2,310.1" fill="none" stroke="#000" stroke-width="2.20"/>
<polyline points="1261.5,304.5 1269.0,304.5" fill="none" stroke="#000" stroke-width="1.80"/>
<polyline points="1191.4,217.5 1217.7,202.5 1225.2,200.0" fill="none" stroke="#000" stroke-width="1.80" stroke-dasharray="2.5 1.5"/>
<polyline points="1217.7,203.8 1217.7,240.0" fill="none" stroke="#000" stroke-width="1.60" stroke-dasharray="3.8 1.5 1.5 1.5"/>
<polyline points="1230.2,250.0 1228.9,306.3" fill="none" stroke="#000" stroke-width="1.60" stroke-dasharray="3.8 1.5 1.5 1.5"/>
<polyline points="1226.4,206.3 1228.9,237.5" fill="none" stroke="#000" stroke-width="1.40" stroke-dasharray="4.0 6.0"/>
<polyline points="1215.2,240.0 1222.7,240.7 1227.7,252.5 1231.4,270.1 1225.2,275.1 1221.4,281.3 1218.9,290.1 1215.2,270.1 1213.3,250.0 1215.2,240.0" fill="none" stroke="#000" stroke-width="2.20"/>
<circle cx="1187.6" cy="261.3" r="1.7" fill="#fff" stroke="#000" stroke-width="1.20"/>
<circle cx="1190.7" cy="260.2" r="1.7" fill="#fff" stroke="#000" stroke-width="1.20"/>
<circle cx="1193.7" cy="259.0" r="1.7" fill="#fff" stroke="#000" stroke-width="1.20"/>
<circle cx="1196.7" cy="257.9" r="1.7" fill="#fff" stroke="#000" stroke-width="1.20"/>
<circle cx="1199.7" cy="256.7" r="1.7" fill="#fff" stroke="#000" stroke-width="1.20"/>
<circle cx="1202.7" cy="255.4" r="1.7" fill="#fff" stroke="#000" stroke-width="1.20"/>
<circle cx="1205.6" cy="254.1" r="1.7" fill="#fff" stroke="#000" stroke-width="1.20"/>
<circle cx="1208.5" cy="252.6" r="1.7" fill="#fff" stroke="#000" stroke-width="1.20"/>
<circle cx="1211.2" cy="250.9" r="1.7" fill="#fff" stroke="#000" stroke-width="1.20"/>
<polyline points="1170.1,265.1 1187.6,262.6" fill="none" stroke="#000" stroke-width="3.50"/>
<polyline points="1185.1,267.6 1190.1,270.7" fill="none" stroke="#000" stroke-width="1.80"/>
<polyline points="1240.2,247.5 1246.4,246.3 1240.2,252.5" fill="none" stroke="#000" stroke-width="1.40"/>
<polyline points="1245.2,256.3 1255.2,255.1" fill="none" stroke="#000" stroke-width="1.40"/>
<polyline points="1237.7,262.6 1252.7,262.6 1260.2,266.3 1261.5,272.6 1252.7,272.6 1245.2,270.1 1240.2,268.8" fill="none" stroke="#000" stroke-width="1.40" stroke-dasharray="1.5 1.5"/>
<text x="1264.8" y="183.3" font-family="Liberation Sans" font-weight="bold" font-size="14.17" textLength="36.3" lengthAdjust="spacingAndGlyphs">VIRE</text>
<text x="1310.4" y="184.0" font-family="Liberation Sans" font-weight="bold" font-size="14.17" textLength="22.5" lengthAdjust="spacingAndGlyphs">DE</text>
<text x="1341.1" y="184.0" font-family="Liberation Sans" font-weight="bold" font-size="12.46" textLength="15.6" lengthAdjust="spacingAndGlyphs">15</text>
<text x="1356.1" y="184.0" font-family="Liberation Sans" font-weight="bold" font-size="5.42" textLength="7.5" lengthAdjust="spacingAndGlyphs">M</text>
<polyline points="1263.8,178.1 1237.6,191.3 1205.0,208.2 1190.0,217.6" fill="none" stroke="#000" stroke-width="1.80" stroke-dasharray="3.8 1.5"/>
<text x="1269.8" y="218.1" font-family="Liberation Sans" font-weight="bold" font-size="12.80" textLength="33.8" lengthAdjust="spacingAndGlyphs">P.40</text>
<line x1="1269.8" y1="220.6" x2="1303.5" y2="220.6" stroke="#000" stroke-width="2.20"/>
<polyline points="1003.9,196.3 1007.6,198.8 1011.4,201.3 1015.1,201.9 1011.4,201.9 1037.7,203.2 1047.7,200.0 1060.2,198.8 1100.0,196.9" fill="none" stroke="#000" stroke-width="2.20"/>
<polyline points="935.1,213.8 960.1,211.9 985.1,211.5 1010.1,212.5 1020.1,213.2 1037.7,211.3 1055.2,210.0 1072.7,210.0 1100.0,208.8" fill="none" stroke="#000" stroke-width="2.20"/>
<polyline points="860.0,258.8 872.5,256.3 885.0,248.8 896.3,245.1 907.5,237.6 915.1,231.3 925.1,228.8 930.1,222.5 935.1,213.8" fill="none" stroke="#000" stroke-width="2.20"/>
<polyline points="882.5,245.1 887.5,232.6 897.5,227.6 913.8,220.0 926.3,213.2" fill="none" stroke="#000" stroke-width="2.00" stroke-dasharray="3.8 1.8"/>
<polyline points="910.0,239.4 932.6,250.7" fill="none" stroke="#000" stroke-width="1.80"/>
<text x="934.8" y="255.9" font-family="Liberation Sans" font-weight="bold" font-size="14.00" textLength="94.4" lengthAdjust="spacingAndGlyphs">TOBOGGAN</text>
<polyline points="860.0,220.7 870.0,222.5 886.3,225.7" fill="none" stroke="#000" stroke-width="2.20"/>
<polyline points="868.8,223.8 862.5,236.3" fill="none" stroke="#000" stroke-width="1.80" stroke-dasharray="1.8 1.5"/>
<polyline points="1090.8,175.0 1090.2,220.0 1091.5,268.8" fill="none" stroke="#000" stroke-width="2.40"/>
<polyline points="1087.7,177.5 1091.5,173.8 1100.0,173.8" fill="none" stroke="#000" stroke-width="2.00"/>
<polyline points="1091.5,265.7 1100.0,265.7" fill="none" stroke="#000" stroke-width="3.00"/>
<polyline points="640.0,223.2 665.0,221.3 677.5,225.7 690.0,230.1 697.6,233.8 702.6,230.1 703.2,225.1" fill="none" stroke="#000" stroke-width="2.20"/>
<polyline points="714.4,223.2 721.3,227.6 740.1,226.9 762.0,228.2 762.6,225.1" fill="none" stroke="#000" stroke-width="2.20"/>
<polyline points="762.0,228.2 765.1,237.6 768.9,242.6 770.1,253.8 775.1,254.5 790.1,253.2 825.2,253.6 827.7,247.6 831.4,238.2 837.7,236.9 845.8,219.4" fill="none" stroke="#000" stroke-width="2.20"/>
<polyline points="851.4,218.8 869.0,223.2 880.0,225.1" fill="none" stroke="#000" stroke-width="2.20"/>
<polyline points="869.0,223.8 864.0,235.1 855.2,237.6 850.2,244.4" fill="none" stroke="#000" stroke-width="1.80" stroke-dasharray="3.8 1.5"/>
<polyline points="640.0,245.7 667.5,243.2 677.5,250.1 693.8,262.6 697.6,263.2" fill="none" stroke="#000" stroke-width="2.20"/>
<polyline points="668.2,245.1 692.5,263.2" fill="none" stroke="#000" stroke-width="1.20"/>
<polyline points="697.6,262.6 715.1,260.7 765.1,262.3 802.7,260.1 840.2,259.5 871.5,257.6 880.0,251.3" fill="none" stroke="#000" stroke-width="2.20"/>
<polyline points="695.1,265.1 686.3,271.3" fill="none" stroke="#000" stroke-width="2.00"/>
<text x="38.5" y="608.5" font-family="Liberation Sans" font-weight="bold" font-size="33.61" textLength="619.9" lengthAdjust="spacingAndGlyphs">Grande Baume du Pré d’Aubonne</text>
<line x1="38.5" y1="619.2" x2="659.3" y2="619.2" stroke="#000" stroke-width="1.6"/>
<line x1="38.5" y1="623.2" x2="659.3" y2="623.2" stroke="#000" stroke-width="1.4"/>
<text x="38.5" y="654.6" font-family="Liberation Sans" font-weight="bold" font-size="18.24" textLength="72.3" lengthAdjust="spacingAndGlyphs">GIMEL</text>
<text x="124.5" y="654.6" font-family="Liberation Sans" font-weight="bold" font-size="18.24" textLength="50.5" lengthAdjust="spacingAndGlyphs">(VD)</text>
<text x="39.5" y="694.8" font-family="Liberation Sans" font-weight="bold" font-size="11.25" textLength="128.3" lengthAdjust="spacingAndGlyphs">509.500 / 155.900</text>
<text x="198.5" y="694.8" font-family="Liberation Sans" font-weight="bold" font-size="11.25" textLength="36.3" lengthAdjust="spacingAndGlyphs">1400</text>
<text x="236.0" y="694.6" font-family="Liberation Sans" font-weight="bold" font-size="4.12" textLength="7.0" lengthAdjust="spacingAndGlyphs">M</text>
<text x="39.5" y="721.2" font-family="Liberation Sans" font-weight="bold" font-size="11.80" textLength="150.8" lengthAdjust="spacingAndGlyphs">DEVELOPPEMENT:</text>
<text x="196.2" y="721.2" font-family="Liberation Sans" font-weight="bold" font-size="11.80" textLength="28.4" lengthAdjust="spacingAndGlyphs">700</text>
<text x="225.7" y="721.2" font-family="Liberation Sans" font-weight="bold" font-size="4.39" textLength="6.9" lengthAdjust="spacingAndGlyphs">M</text>
<text x="277.7" y="720.3" font-family="Liberation Sans" font-weight="bold" font-size="11.93" textLength="121.7" lengthAdjust="spacingAndGlyphs">PROFONDEUR:</text>
<line x1="404.5" y1="715.8" x2="412.5" y2="715.8" stroke="#000" stroke-width="1.6"/>
<text x="417.6" y="720.3" font-family="Liberation Sans" font-weight="bold" font-size="12.21" textLength="19.3" lengthAdjust="spacingAndGlyphs">92</text>
<line x1="948.3" y1="732.3" x2="1213.9" y2="732.3" stroke="#000" stroke-width="2.4"/>
<line x1="948.3" y1="732.5" x2="948.3" y2="741.6" stroke="#000" stroke-width="1.8"/>
<line x1="974.9" y1="732.5" x2="974.9" y2="737.5" stroke="#000" stroke-width="1.8"/>
<line x1="1001.4" y1="732.5" x2="1001.4" y2="741.6" stroke="#000" stroke-width="1.8"/>
<line x1="1028.0" y1="732.5" x2="1028.0" y2="737.5" stroke="#000" stroke-width="1.8"/>
<line x1="1054.5" y1="732.5" x2="1054.5" y2="741.6" stroke="#000" stroke-width="1.8"/>
<line x1="1081.1" y1="732.5" x2="1081.1" y2="737.5" stroke="#000" stroke-width="1.8"/>
<line x1="1107.7" y1="732.5" x2="1107.7" y2="741.6" stroke="#000" stroke-width="1.8"/>
<line x1="1134.2" y1="732.5" x2="1134.2" y2="737.5" stroke="#000" stroke-width="1.8"/>
<line x1="1160.8" y1="732.5" x2="1160.8" y2="741.6" stroke="#000" stroke-width="1.8"/>
<line x1="1187.3" y1="732.5" x2="1187.3" y2="737.5" stroke="#000" stroke-width="1.8"/>
<line x1="1213.9" y1="732.5" x2="1213.9" y2="741.6" stroke="#000" stroke-width="1.8"/>
<text x="943.9" y="753.7" font-family="Liberation Sans" font-weight="bold" font-size="12.21" textLength="9.7" lengthAdjust="spacingAndGlyphs">0</text>
<text x="993.0" y="753.7" font-family="Liberation Sans" font-weight="bold" font-size="12.21" textLength="15.6" lengthAdjust="spacingAndGlyphs">10</text>
<text x="1044.6" y="753.7" font-family="Liberation Sans" font-weight="bold" font-size="12.21" textLength="18.9" lengthAdjust="spacingAndGlyphs">20</text>
<text x="1097.0" y="753.7" font-family="Liberation Sans" font-weight="bold" font-size="12.21" textLength="20.6" lengthAdjust="spacingAndGlyphs">30</text>
<text x="1149.5" y="753.7" font-family="Liberation Sans" font-weight="bold" font-size="12.21" textLength="20.6" lengthAdjust="spacingAndGlyphs">40</text>
<text x="1204.4" y="753.7" font-family="Liberation Sans" font-weight="bold" font-size="12.21" textLength="18.9" lengthAdjust="spacingAndGlyphs">50</text>
<text x="1224.4" y="753.7" font-family="Liberation Sans" font-weight="bold" font-size="6.45" textLength="7.3" lengthAdjust="spacingAndGlyphs">M</text>
<text x="48.9" y="1065.6" font-family="Liberation Sans" font-weight="bold" font-size="13.17" textLength="44.6" lengthAdjust="spacingAndGlyphs">TOPO</text>
<text x="107.3" y="1065.6" font-family="Liberation Sans" font-weight="bold" font-size="13.17" textLength="54.9" lengthAdjust="spacingAndGlyphs">STAGE</text>
<text x="178.3" y="1065.6" font-family="Liberation Sans" font-weight="bold" font-size="13.17" textLength="33.7" lengthAdjust="spacingAndGlyphs">SSS</text>
<text x="232.0" y="1066.2" font-family="Liberation Sans" font-weight="bold" font-size="13.31" textLength="40.0" lengthAdjust="spacingAndGlyphs">4–12</text>
<text x="284.0" y="1065.8" font-family="Liberation Sans" font-weight="bold" font-size="13.44" textLength="44.8" lengthAdjust="spacingAndGlyphs">AOÛT</text>
<text x="337.3" y="1066.5" font-family="Liberation Sans" font-weight="bold" font-size="13.03" textLength="34.4" lengthAdjust="spacingAndGlyphs">1979</text>
<text x="414.6" y="1067.8" font-family="Liberation Sans" font-weight="bold" font-size="14.54" textLength="247.3" lengthAdjust="spacingAndGlyphs">HE JEF FG AM OM DQ DR PR</text>
<text x="805.7" y="1068.0" font-family="Liberation Sans" font-weight="bold" font-size="12.89" textLength="47.3" lengthAdjust="spacingAndGlyphs">BCRA</text>
<text x="866.6" y="1068.2" font-family="Liberation Sans" font-weight="bold" font-size="12.89" textLength="21.6" lengthAdjust="spacingAndGlyphs">4C</text>
<text x="1088.4" y="1070.8" font-family="Liberation Sans" font-weight="bold" font-size="14.13" textLength="59.6" lengthAdjust="spacingAndGlyphs">DESSIN</text>
<text x="1157.4" y="1070.8" font-family="Liberation Sans" font-weight="bold" font-size="14.13" textLength="104.2" lengthAdjust="spacingAndGlyphs">H. ESTOPPEY</text>
</svg></body></html>
